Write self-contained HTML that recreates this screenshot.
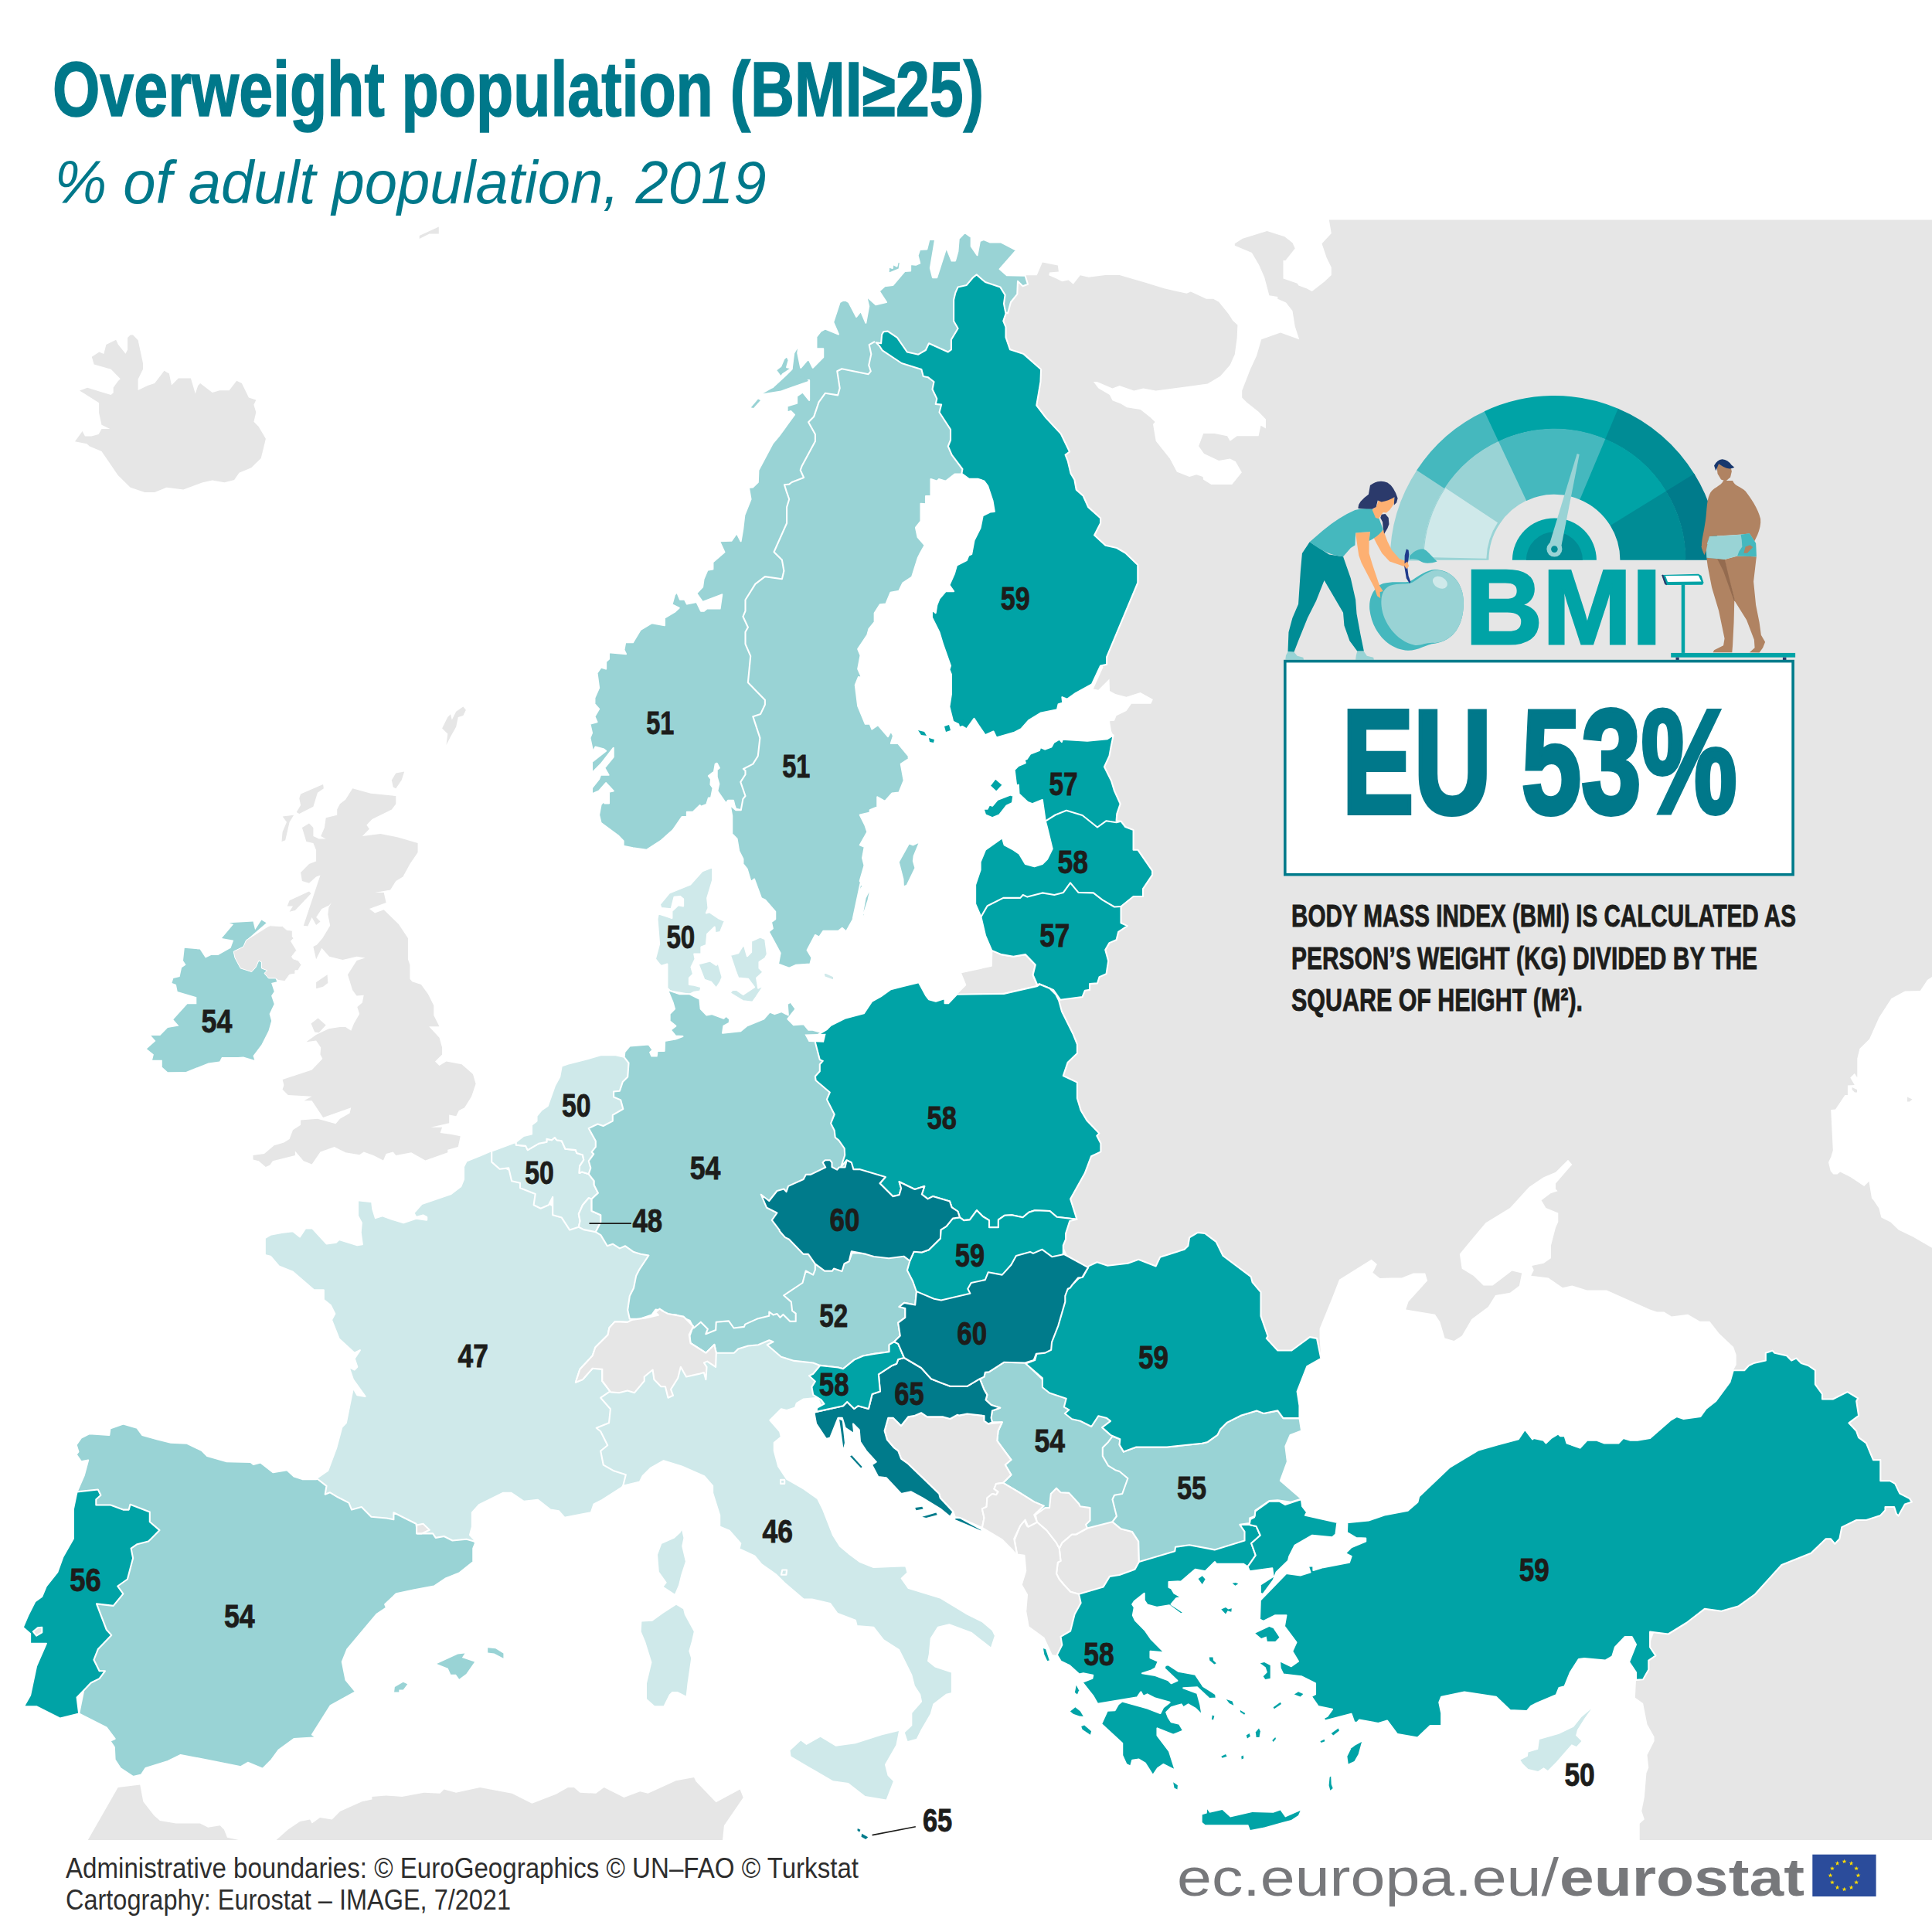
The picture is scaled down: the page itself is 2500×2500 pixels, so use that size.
<!DOCTYPE html>
<html><head><meta charset="utf-8"><title>Overweight population</title>
<style>
html,body{margin:0;padding:0;background:#fff;}
body{width:2500px;height:2500px;overflow:hidden;position:relative;font-family:"Liberation Sans",sans-serif;}
svg{position:absolute;left:0;top:0;}
</style></head><body>
<svg width="2500" height="2500" viewBox="0 0 2500 2500">
<defs><clipPath id="mapclip"><rect x="0" y="284.5" width="2500" height="2096.5"/></clipPath></defs>
<g clip-path="url(#mapclip)">
<path d="M97.0,571.2 106.6,558.0 110.0,564.4 118.3,564.4 127.6,561.9 131.5,554.9 142.3,554.9 131.5,549.7 128.1,534.2 128.1,521.2 103.0,505.4 113.1,501.8 143.6,511.1 146.7,508.3 146.7,501.6 152.7,493.3 155.8,490.2 143.6,477.7 121.6,471.5 118.8,461.7 128.4,455.5 134.3,458.1 137.4,445.9 150.1,439.7 152.7,445.4 162.5,457.8 165.1,452.6 165.1,436.9 168.7,433.5 172.1,433.5 178.6,440.2 185.0,470.0 185.0,477.7 178.6,490.7 178.6,504.9 191.0,499.0 200.1,495.9 209.1,484.2 212.5,479.8 218.9,483.4 222.0,498.4 230.8,489.4 246.9,489.4 252.8,509.6 256.2,499.0 259.1,495.9 274.8,508.0 284.2,505.2 296.6,505.2 306.2,492.8 312.9,495.9 321.9,514.5 331.3,517.6 328.4,523.8 331.3,533.4 328.4,545.8 334.6,552.0 343.9,567.8 337.7,592.9 325.1,605.3 309.5,611.8 303.1,621.1 290.4,624.2 274.8,621.4 262.2,624.2 237.3,633.5 215.6,630.7 200.1,636.9 187.4,636.9 168.7,630.7 152.7,614.9 131.5,583.9 115.9,577.4 112.3,574.3Z" fill="#e6e6e6" stroke="none" stroke-width="2.1" stroke-linejoin="round"/>
<path d="M542.7,309.0 542.7,304.9 567.8,293.5 567.8,302.5 555.6,302.5Z" fill="#e6e6e6" stroke="none" stroke-width="2.1" stroke-linejoin="round"/>
<path d="M1327.2,356.2 1341.7,356.2 1348.9,339.6 1368.8,343.6 1369.9,351.5 1358.0,352.6 1357.2,356.2 1367.0,360.6 1374.3,364.2 1382.6,362.4 1388.8,367.8 1397.8,356.2 1408.7,358.8 1430.4,355.9 1448.6,355.9 1483.0,366.0 1506.5,373.3 1535.5,379.8 1540.9,377.6 1560.9,386.7 1569.9,386.7 1577.2,390.7 1589.9,406.6 1595.3,414.9 1601.4,420.4 1600.7,436.7 1597.8,458.4 1591.7,472.2 1579.0,486.7 1562.7,496.4 1531.9,500.8 1495.7,505.5 1479.3,502.6 1467.4,505.5 1448.6,499.0 1439.5,502.6 1419.6,493.9 1414.9,493.9 1421.4,502.6 1435.9,510.9 1439.5,518.2 1450.4,522.5 1458.3,527.2 1475.7,530.1 1488.4,539.9 1494.6,546.1 1492.0,549.0 1495.7,570.7 1513.8,593.6 1522.8,610.6 1539.1,617.1 1548.2,614.2 1556.5,617.1 1557.2,620.7 1567.4,626.9 1594.2,626.9 1606.9,611.3 1598.9,597.2 1591.7,593.6 1577.2,596.1 1558.0,587.0 1551.1,577.2 1557.2,560.9 1571.7,560.9 1588.0,564.2 1591.7,570.7 1600.7,564.2 1628.6,564.2 1631.5,550.8 1638.0,554.4 1638.0,542.5 1628.6,532.7 1613.4,520.7 1607.2,514.6 1607.2,505.5 1617.8,478.3 1626.1,460.2 1632.2,439.2 1656.9,430.5 1681.2,439.2 1675.7,422.2 1672.5,402.2 1664.1,391.4 1653.3,386.7 1653.3,384.1 1642.4,382.3 1636.2,358.8 1629.0,342.5 1619.9,326.9 1597.8,317.8 1597.8,315.3 1608.0,308.8 1639.5,299.0 1662.3,306.2 1672.5,314.2 1675.7,321.4 1663.4,337.0 1660.5,337.0 1660.5,360.6 1678.6,366.7 1680.4,369.6 1690.6,373.3 1697.8,376.9 1714.1,364.2 1722.8,355.9 1722.8,346.1 1716.7,333.4 1710.5,315.3 1722.8,301.9 1719.2,280.9 2520.0,260.0 2520.0,2400.0 2121.7,2387.0 2121.7,2359.8 2127.9,2354.3 2124.3,2343.5 2127.9,2325.4 2130.4,2294.6 2133.3,2287.3 2131.5,2271.0 2140.6,2252.9 2140.6,2247.5 2131.5,2231.2 2126.1,2204.0 2115.9,2196.7 2117.0,2173.9 2162.3,2053.6 1850.0,1900.0 1720.0,1800.0 1600.0,1750.0 1480.0,1660.0 1390.0,1645.0 1370.0,1600.0 1380.0,1500.0 1360.0,1300.0 1400.0,1250.0 1440.0,1120.0 1420.0,1000.0 1440.7,951.4 1438.1,946.3 1436.0,933.3 1442.0,932.8 1444.6,926.3 1457.5,919.9 1464.0,910.8 1489.3,910.8 1491.9,905.1 1475.6,896.1 1457.5,901.8 1443.3,897.9 1436.0,894.0 1435.5,878.5 1421.3,892.7 1414.8,891.4 1427.7,862.9 1350.0,800.0 1250.0,500.0 1300.0,380.0Z" fill="#e6e6e6" stroke="none" stroke-width="2.1" stroke-linejoin="round"/>
<path d="M109.7,2388.1 152.7,2313.0 181.2,2309.4 185.3,2331.2 199.3,2349.3 207.0,2356.0 227.7,2359.6 258.8,2359.6 269.2,2364.8 284.7,2362.2 289.9,2367.4 294.0,2377.7 310.6,2381.4 357.1,2381.4 372.7,2367.4 388.2,2357.0 401.1,2354.5 403.7,2359.6 414.1,2351.9 429.6,2354.5 440.0,2344.1 468.4,2331.2 481.4,2328.6 481.4,2324.9 499.5,2323.4 520.2,2324.9 548.7,2319.8 569.4,2320.8 574.5,2315.6 590.1,2319.8 621.1,2313.0 662.5,2320.8 688.4,2333.7 719.5,2321.8 735.0,2313.0 742.8,2313.0 750.5,2319.8 771.2,2320.8 781.6,2313.0 807.5,2326.0 828.2,2318.2 838.5,2320.8 874.7,2304.2 898.0,2300.1 900.6,2305.3 926.5,2332.2 957.6,2315.6 961.7,2326.0 936.9,2362.2 934.3,2388.1Z" fill="#e6e6e6" stroke="none" stroke-width="2.1" stroke-linejoin="round"/>
<path d="M456.2,1020.3 479.7,1026.8 512.3,1030.1 512.3,1040.2 506.9,1047.5 481.5,1060.1 474.3,1067.4 477.9,1072.8 468.8,1081.9 492.4,1079.0 515.9,1083.7 540.6,1090.9 540.6,1102.9 530.4,1118.1 521.4,1134.4 512.3,1139.9 505.1,1151.4 485.1,1155.1 496.7,1155.1 499.6,1168.1 477.9,1176.1 485.1,1181.5 496.7,1177.2 515.9,1196.0 527.9,1214.1 527.9,1241.3 530.4,1248.6 530.4,1266.7 533.3,1270.3 544.9,1273.9 554.0,1286.6 561.2,1301.1 561.2,1313.8 568.5,1328.3 555.1,1328.3 568.5,1342.8 572.1,1355.4 572.1,1364.5 563.0,1373.6 568.5,1379.0 577.5,1373.6 597.5,1377.2 612.0,1389.9 615.6,1402.5 610.1,1418.8 601.1,1433.3 593.8,1437.0 590.2,1444.2 581.2,1442.4 581.2,1453.3 557.6,1458.7 572.1,1458.7 569.6,1465.9 583.0,1467.8 595.7,1470.3 592.8,1484.1 579.3,1487.7 579.3,1491.3 550.4,1501.4 532.2,1491.3 512.3,1494.9 508.7,1490.6 499.6,1493.1 496.0,1501.4 483.3,1494.9 470.7,1490.6 465.2,1494.2 447.1,1491.3 432.6,1484.1 414.5,1490.6 403.6,1506.5 392.8,1502.2 381.9,1489.5 381.9,1494.9 352.9,1502.2 349.3,1507.6 343.8,1510.1 334.8,1502.2 327.5,1500.4 327.5,1494.9 342.0,1493.1 354.7,1482.2 367.4,1478.6 374.6,1473.9 379.0,1462.3 389.1,1455.8 389.1,1449.6 410.9,1447.8 434.4,1454.3 439.9,1447.8 452.5,1440.6 454.3,1433.3 418.1,1446.0 403.6,1424.3 393.5,1424.3 403.6,1418.8 372.8,1417.0 365.6,1409.8 367.4,1404.3 365.6,1397.1 403.6,1384.4 417.4,1369.9 414.5,1364.5 415.2,1355.4 409.1,1346.4 396.4,1348.2 409.1,1339.1 425.4,1331.2 439.9,1329.0 447.1,1329.0 454.3,1333.7 458.0,1324.6 465.2,1312.0 462.3,1302.9 468.8,1297.5 470.7,1287.7 461.6,1288.4 456.2,1281.2 450.0,1261.2 461.6,1243.1 472.5,1239.5 461.6,1237.7 443.5,1242.0 426.1,1237.7 416.3,1226.8 409.1,1241.3 405.4,1225.0 410.1,1222.5 417.4,1214.1 427.2,1197.8 424.3,1183.3 425.4,1174.3 429.0,1168.1 425.4,1171.7 416.3,1176.1 409.1,1187.0 414.5,1192.4 409.1,1197.1 403.6,1187.0 398.2,1198.6 392.8,1197.8 403.6,1165.2 414.5,1132.6 409.1,1134.4 400.0,1142.8 390.9,1139.9 389.1,1129.0 400.0,1118.1 409.1,1114.5 409.1,1100.0 405.4,1090.9 396.4,1089.1 390.9,1071.0 400.0,1065.6 405.4,1071.0 405.4,1081.9 412.7,1085.5 421.7,1085.5 415.2,1081.9 419.9,1071.0 421.7,1058.3 436.2,1054.7 436.2,1047.5 439.9,1040.2 447.1,1034.8Z" fill="#e6e6e6" stroke="none" stroke-width="2.1" stroke-linejoin="round"/>
<path d="M389.1,1027.5 418.1,1014.9 418.8,1020.3 410.9,1025.7 405.4,1043.8 387.3,1052.9 383.7,1051.1 389.1,1042.0 387.3,1033.0Z" fill="#e6e6e6" stroke="none" stroke-width="2.1" stroke-linejoin="round"/>
<path d="M365.6,1056.5 380.1,1054.7 374.6,1063.8 369.2,1087.3 364.5,1089.1 365.6,1076.4 371.0,1063.8Z" fill="#e6e6e6" stroke="none" stroke-width="2.1" stroke-linejoin="round"/>
<path d="M374.6,1165.2 400.0,1153.6 402.5,1156.2 381.9,1177.9 374.6,1179.7 379.0,1172.5 371.7,1172.5Z" fill="#e6e6e6" stroke="none" stroke-width="2.1" stroke-linejoin="round"/>
<path d="M506.9,1009.4 512.3,1000.4 523.2,998.6 519.6,1009.4 512.3,1020.3 508.7,1018.5Z" fill="#e6e6e6" stroke="none" stroke-width="2.1" stroke-linejoin="round"/>
<path d="M572.1,942.4 579.3,927.9 583.0,924.3 584.8,931.5 590.2,920.7 599.3,914.5 602.9,918.8 599.3,926.1 592.8,927.9 590.2,940.6 583.0,953.3 577.5,964.1 579.3,949.6Z" fill="#e6e6e6" stroke="none" stroke-width="2.1" stroke-linejoin="round"/>
<path d="M409.1,1271.0 423.6,1261.2 424.3,1272.1 418.1,1276.8 409.1,1279.3Z" fill="#e6e6e6" stroke="none" stroke-width="2.1" stroke-linejoin="round"/>
<path d="M402.5,1324.6 411.6,1317.4 421.7,1326.4 412.7,1336.2 407.2,1335.5Z" fill="#e6e6e6" stroke="none" stroke-width="2.1" stroke-linejoin="round"/>
<path d="M98.6,1869.6 105.1,1860.5 115.9,1855.1 141.3,1856.9 142.4,1848.6 159.4,1842.4 177.5,1847.8 184.1,1856.9 202.9,1862.3 221.0,1866.7 242.0,1867.8 260.9,1876.8 268.1,1884.1 293.5,1891.3 324.3,1892.0 327.9,1894.9 337.0,1892.4 353.3,1905.1 371.4,1902.2 380.4,1910.5 391.3,1914.1 409.4,1914.1 422.1,1907.6 471.0,1916.7 543.5,1945.7 601.4,1981.9 615.2,1996.4 612.3,2003.6 612.3,2021.0 594.2,2035.5 576.1,2042.8 561.6,2052.5 536.2,2057.2 512.7,2062.3 498.2,2076.1 500.0,2080.4 487.3,2088.8 449.3,2134.1 442.8,2150.4 447.5,2173.9 460.1,2189.1 427.5,2207.2 404.0,2244.6 409.4,2248.2 380.4,2250.0 360.5,2264.5 351.4,2277.2 339.9,2288.8 320.7,2280.8 311.6,2286.2 275.4,2279.0 233.7,2271.0 217.4,2279.0 188.4,2288.0 183.0,2296.4 172.1,2298.9 155.8,2288.0 148.6,2277.2 147.8,2260.9 142.4,2252.9 148.6,2250.0 137.7,2235.5 102.2,2217.4 108.7,2184.8 108.7,2003.6 108.7,1938.4 99.6,1930.4 108.7,1909.4 114.1,1889.5 105.1,1891.3 98.6,1882.2 101.4,1878.6Z" fill="#99d3d5" stroke="#fff" stroke-width="2.1" stroke-linejoin="round"/>
<path d="M1819.2,1694.6 1822.5,1684.4 1847.1,1657.2 1844.2,1647.5 1829.0,1647.5 1813.8,1653.6 1800.0,1653.6 1785.5,1654.0 1776.4,1646.7 1781.9,1635.9 1774.6,1629.7 1733.0,1655.8 1723.9,1679.3 1707.6,1719.2 1707.6,1731.9 1709.4,1758.0 1691.3,1768.1 1678.6,1800.7 1681.5,1818.8 1681.5,1835.1 1684.1,1851.4 1669.6,1856.9 1663.4,1871.4 1665.9,1891.3 1656.9,1915.9 1684.1,1939.5 1684.1,1943.8 1691.3,1960.1 1731.2,1970.3 1731.2,1987.3 1742.8,1989.1 1742.8,1970.3 1771.0,1967.4 1792.8,1960.1 1821.7,1954.7 1834.4,1943.8 1836.2,1936.6 1876.1,1898.6 1912.3,1876.8 1937.7,1869.6 1964.9,1862.3 1973.2,1849.6 1983.0,1862.3 1984.8,1860.9 1997.5,1863.8 2000.4,1867.4 2006.9,1861.2 2016.3,1855.4 2019.2,1858.3 2024.6,1858.3 2027.5,1867.4 2044.6,1873.6 2053.6,1863.8 2066.3,1863.8 2076.1,1867.4 2094.6,1867.4 2100.7,1860.9 2109.8,1863.8 2118.8,1863.8 2135.1,1860.9 2162.3,1837.3 2169.6,1833.0 2178.6,1835.9 2200.4,1833.0 2207.6,1822.8 2220.3,1813.0 2238.4,1788.4 2242.8,1773.2 2246.7,1765.9 2246.7,1753.3 2243.1,1743.1 2224.6,1725.4 2212.3,1709.8 2199.6,1709.8 2184.1,1700.7 2163.0,1703.6 2153.3,1697.5 2144.2,1697.5 2135.1,1694.6 2079.0,1669.6 2053.6,1669.6 2034.4,1663.4 2022.1,1666.3 2003.6,1653.6 1981.2,1650.7 1984.8,1643.5 1982.2,1638.0 1997.5,1634.8 2006.9,1628.3 2006.9,1612.0 2013.0,1588.4 2016.3,1581.2 2016.3,1569.6 2000.4,1563.0 1994.6,1553.3 2006.5,1544.2 2015.6,1541.3 2013.0,1538.4 2013.0,1531.5 2034.4,1506.9 2029.0,1500.7 2013.0,1516.7 1997.5,1523.2 1978.6,1535.9 1954.0,1563.0 1922.5,1582.2 1900.7,1608.3 1888.8,1622.8 1891.7,1641.7 1906.9,1651.1 1919.6,1663.4 1931.5,1663.4 1956.5,1644.6 1969.2,1647.5 1965.9,1663.8 1954.0,1672.8 1935.1,1676.1 1925.7,1690.9 1904.3,1706.9 1891.7,1728.6 1881.5,1735.1 1869.6,1731.5 1863.4,1710.5 1856.9,1700.7Z" fill="#ffffff" stroke="none" stroke-width="2.1" stroke-linejoin="round"/>
<path d="M2500.0,1264.0 2494.0,1268.0 2484.7,1282.0 2465.0,1282.6 2447.4,1291.9 2442.2,1300.0 2431.5,1316.6 2419.0,1344.5 2406.4,1356.9 2403.3,1369.4 2403.3,1394.2 2399.8,1389.0 2394.2,1394.6 2399.8,1404.1 2390.9,1404.6 2390.9,1417.0 2387.4,1417.0 2375.0,1435.6 2369.2,1436.0 2371.8,1488.4 2369.4,1496.7 2366.0,1503.9 2368.7,1515.3 2372.3,1519.5 2377.4,1519.5 2381.2,1516.4 2394.6,1523.2 2412.2,1535.0 2418.4,1528.8 2422.0,1550.5 2424.6,1553.6 2431.3,1563.4 2434.4,1575.4 2446.4,1581.6 2456.7,1591.5 2475.4,1600.6 2500.0,1614.7 2520.0,1625.0 2520.0,1264.0Z" fill="#ffffff" stroke="none" stroke-width="2.1" stroke-linejoin="round"/>
<path d="M636.2,1489.1 621.7,1495.3 603.6,1502.5 600.0,1509.8 600.0,1526.1 596.4,1535.1 583.7,1544.9 545.7,1558.0 535.5,1569.6 538.4,1575.0 547.5,1572.5 552.2,1575.0 552.2,1578.6 538.4,1576.8 522.1,1582.2 506.5,1577.5 494.9,1573.2 485.9,1576.1 482.2,1564.1 481.2,1555.1 463.0,1553.3 463.0,1573.2 467.8,1582.2 466.7,1594.9 468.8,1610.1 462.3,1611.2 438.8,1604.0 435.1,1607.6 422.5,1609.4 404.3,1589.5 395.3,1589.5 388.0,1600.4 379.0,1593.1 364.5,1594.9 350.0,1597.8 342.8,1602.2 342.8,1623.9 350.0,1625.7 360.9,1638.4 379.0,1645.7 406.2,1669.2 418.8,1669.2 418.8,1681.9 427.9,1689.1 433.3,1700.0 429.0,1708.0 438.8,1732.6 458.7,1750.7 465.9,1747.1 458.7,1758.0 462.3,1768.8 458.7,1772.5 451.4,1768.8 456.9,1785.1 472.5,1806.9 462.3,1805.1 456.9,1796.0 447.8,1841.3 442.4,1846.7 435.1,1873.9 424.3,1902.9 409.8,1913.0 422.5,1922.8 420.7,1933.7 426.8,1931.2 437.0,1937.3 451.4,1944.6 455.1,1953.6 467.8,1950.0 480.4,1962.7 500.4,1964.5 509.4,1966.3 509.4,1957.2 538.4,1971.7 540.2,1984.4 560.1,1984.4 563.8,1989.9 574.6,1988.0 585.5,1993.5 603.6,1991.7 616.3,1995.3 608.0,1986.2 610.9,1975.4 610.9,1957.2 619.9,1947.1 650.7,1931.9 661.6,1931.9 677.9,1942.8 696.0,1940.9 712.3,1953.6 723.2,1955.4 730.4,1963.8 764.9,1957.2 768.5,1946.4 779.3,1940.9 804.7,1924.6 821.0,1902.9 806.5,1848.6 806.5,1812.3 790.2,1801.4 779.3,1787.0 779.3,1771.7 766.7,1770.7 754.0,1785.1 744.9,1788.8 750.4,1771.7 766.7,1754.3 770.3,1743.5 786.6,1727.2 788.4,1718.1 795.7,1710.1 812.0,1710.9 831.9,1703.6 857.2,1623.9 784.8,1587.7 748.6,1580.4 712.3,1558.7 676.1,1522.5 639.9,1504.3Z" fill="#cfe9ea" stroke="#fff" stroke-width="2.1" stroke-linejoin="round"/>
<path d="M565.2,2152.9 592.4,2140.6 601.4,2139.5 597.8,2144.9 614.1,2150.4 603.3,2165.9 594.2,2172.8 589.9,2166.7 583.3,2166.7 579.7,2158.7Z" fill="#99d3d5" stroke="none" stroke-width="2.1" stroke-linejoin="round"/>
<path d="M631.2,2132.2 641.3,2133.3 651.4,2139.5 651.4,2145.7 639.5,2139.5 631.2,2138.4Z" fill="#99d3d5" stroke="none" stroke-width="2.1" stroke-linejoin="round"/>
<path d="M510.9,2183.0 521.7,2176.8 527.2,2179.3 521.7,2186.6 516.3,2186.6 516.3,2189.5 510.1,2189.5Z" fill="#99d3d5" stroke="none" stroke-width="2.1" stroke-linejoin="round"/>
<path d="M296.7,1194.2 327.5,1192.4 330.1,1203.3 338.4,1190.6 344.6,1194.2 318.5,1216.7 314.9,1225.0 302.2,1231.2 304.0,1239.5 311.2,1252.9 325.7,1257.6 331.2,1251.4 334.8,1243.1 338.4,1244.9 338.4,1252.9 345.7,1255.8 342.0,1259.4 347.5,1265.9 356.5,1265.9 358.3,1270.3 351.1,1272.1 354.7,1283.0 351.1,1288.4 354.7,1299.3 348.6,1312.0 351.1,1321.0 347.5,1333.7 338.4,1351.8 327.5,1366.3 329.3,1371.7 314.9,1367.4 307.6,1368.1 287.0,1368.1 284.1,1373.6 269.6,1375.4 240.6,1387.0 217.0,1387.3 209.8,1380.8 209.8,1371.7 197.1,1371.7 198.9,1364.5 189.9,1357.2 201.4,1347.1 195.3,1339.9 207.2,1339.9 217.0,1330.1 231.5,1327.5 224.3,1319.2 242.4,1299.3 254.3,1299.3 254.3,1290.2 229.7,1283.0 227.9,1273.9 222.5,1272.1 224.3,1265.9 232.6,1264.1 235.1,1252.2 240.6,1248.6 237.0,1243.1 238.8,1226.8 258.7,1228.6 265.9,1239.5 273.2,1235.9 282.2,1235.9 298.6,1226.8 302.2,1216.7 287.0,1214.1 302.2,1196.0Z" fill="#99d3d5" stroke="none" stroke-width="2.1" stroke-linejoin="round"/>
<path d="M1300.2,404.0 1304.1,405.3 1308.0,391.0 1316.3,380.7 1317.0,363.9 1323.5,370.3 1330.0,367.8 1326.6,356.6 1302.8,356.1 1293.7,348.3 1315.2,323.8 1295.0,313.4 1280.8,313.4 1273.0,310.0 1267.9,312.1 1264.5,330.2 1256.7,318.6 1256.7,306.9 1248.4,301.0 1240.7,309.0 1239.4,325.1 1236.0,337.5 1231.6,337.5 1224.6,320.4 1212.2,359.2 1207.0,359.2 1203.9,347.0 1210.1,310.0 1202.4,310.0 1199.3,322.5 1190.2,323.0 1187.6,330.7 1190.2,340.6 1185.0,342.7 1178.1,341.9 1178.1,350.4 1170.8,350.9 1155.3,369.0 1144.9,370.3 1137.7,376.8 1147.0,391.0 1133.3,394.2 1121.1,383.3 1124.2,396.2 1120.3,417.7 1113.9,402.7 1108.2,409.9 1098.3,391.0 1092.7,387.9 1086.7,391.0 1078.2,416.9 1084.9,432.5 1067.8,425.5 1062.1,428.6 1056.4,435.8 1056.4,451.3 1065.2,451.3 1065.2,462.2 1051.8,475.7 1046.1,464.3 1036.2,475.7 1032.3,457.0 1033.6,446.2 1027.2,457.0 1024.6,477.7 1015.5,486.8 1000.0,501.0 1000.0,506.2 1010.4,504.9 1023.3,501.0 1038.8,492.8 1047.1,492.0 1047.1,517.9 1038.8,507.5 1031.1,512.7 1031.1,521.7 1018.6,525.6 1018.6,533.4 1023.3,532.1 1028.0,536.7 1018.1,550.2 1007.8,564.4 1000.0,573.5 981.4,608.4 980.8,624.0 974.1,630.4 968.9,631.0 971.5,646.0 963.3,666.7 961.2,684.8 958.6,700.3 953.4,690.0 946.4,699.8 930.9,700.3 937.4,714.5 922.4,727.5 922.4,736.5 915.4,737.8 910.2,750.0 910.9,746.6 909.1,759.5 901.3,767.8 909.1,778.9 934.2,769.4 931.6,787.5 914.8,787.5 910.9,790.6 907.0,790.6 901.3,778.9 888.9,781.5 885.8,775.6 879.9,775.6 876.0,766.0 872.9,769.9 869.5,782.3 878.6,786.7 872.9,791.9 859.9,799.6 859.9,809.2 843.6,806.1 828.6,815.2 819.0,831.2 809.2,831.2 807.4,841.0 810.0,846.2 788.0,844.2 788.0,852.7 784.1,856.1 784.1,865.6 777.6,863.6 772.5,870.8 775.1,890.2 769.4,903.2 769.4,910.9 775.1,917.4 769.4,927.2 772.5,934.2 763.4,936.8 766.0,948.4 763.4,954.9 767.3,973.0 770.4,966.6 780.7,969.2 784.1,971.7 766.0,986.0 766.0,1000.2 777.6,988.6 793.7,967.9 793.7,979.5 782.3,993.7 787.5,1002.8 777.1,1002.8 775.1,1008.0 766.0,1019.6 766.0,1027.4 775.1,1023.5 784.1,1013.1 793.7,1023.5 788.0,1024.8 788.0,1039.5 782.3,1039.5 782.3,1035.9 777.6,1041.1 775.1,1054.6 777.6,1064.9 799.6,1081.0 806.6,1088.2 806.6,1094.7 819.0,1097.3 836.6,1099.8 854.8,1088.2 870.8,1074.0 882.5,1057.1 888.9,1057.1 888.9,1050.7 896.7,1050.7 905.7,1042.1 907.0,1043.7 914.3,1041.1 916.9,1032.6 920.0,1032.6 922.6,1019.6 919.5,1015.2 920.0,1008.0 916.9,1004.1 922.6,999.7 922.6,1006.7 925.7,988.6 927.7,987.8 930.8,993.7 927.7,996.3 927.7,1005.4 930.3,1014.4 928.3,1023.5 939.4,1039.5 942.0,1035.9 949.0,1035.9 950.5,1042.1 952.3,1046.8 958.8,1048.1 952.3,1048.1 944.6,1041.6 947.2,1055.8 947.2,1079.1 953.6,1085.6 956.2,1101.1 961.4,1111.5 961.4,1118.0 966.6,1124.4 971.7,1141.3 976.0,1137.5 985.0,1162.1 990.2,1164.7 1003.2,1179.7 1003.2,1189.3 998.0,1193.2 999.8,1201.4 994.6,1205.6 1009.6,1233.3 1007.0,1247.5 1021.3,1252.7 1030.3,1248.8 1048.4,1247.5 1050.5,1239.2 1044.6,1229.4 1054.9,1210.0 1060.1,1212.6 1065.3,1204.8 1084.7,1204.8 1089.9,1200.9 1095.0,1205.6 1104.1,1189.3 1111.9,1154.3 1116.3,1146.6 1113.1,1138.8 1118.3,1120.7 1103.7,1189.1 1116.1,1146.4 1112.8,1140.0 1118.7,1120.5 1116.1,1110.2 1118.7,1096.0 1112.8,1093.4 1122.4,1076.6 1119.3,1067.5 1112.8,1054.6 1125.7,1051.4 1125.7,1048.1 1135.3,1044.2 1135.3,1031.3 1145.1,1037.0 1154.2,1026.6 1163.3,1025.6 1169.7,1010.0 1165.8,988.6 1175.7,982.1 1175.7,978.2 1162.0,961.9 1152.9,961.9 1156.0,952.3 1152.9,945.9 1149.0,953.1 1136.1,938.1 1128.3,943.3 1125.7,936.8 1119.8,936.8 1110.2,913.5 1106.8,886.3 1111.0,876.0 1115.4,877.3 1110.2,865.6 1113.6,848.0 1110.2,839.8 1122.4,821.6 1124.4,813.9 1131.7,804.8 1131.7,793.2 1138.7,782.3 1146.4,781.5 1152.4,766.8 1163.3,764.7 1168.4,754.3 1180.1,746.6 1187.8,722.0 1190.2,717.1 1196.7,705.5 1187.6,695.1 1185.0,682.7 1191.5,674.4 1191.5,651.7 1198.0,652.4 1198.0,642.1 1204.5,642.1 1204.5,620.1 1212.7,622.7 1214.8,620.1 1223.9,622.7 1235.5,613.6 1245.9,613.6 1284.7,586.4 1310.6,482.9 1284.7,405.3Z" fill="#99d3d5" stroke="#fff" stroke-width="2.1" stroke-linejoin="round"/>
<path d="M958.8,1048.1 961.4,1033.9 964.5,1030.0 958.3,1011.9 964.5,1002.3 964.5,997.1 961.9,995.0 974.3,988.6 980.8,978.2 983.4,954.9 974.3,927.2 984.2,923.9 989.9,911.7 989.9,905.7 967.9,883.2 971.2,848.8 964.5,833.3 964.5,817.8 967.9,811.8 961.4,797.8 964.5,790.6 964.5,776.3 977.4,755.6 989.9,746.1 1011.9,749.2 1014.4,738.8 1011.9,724.6 1001.5,714.2 1018.1,677.0 1018.1,656.3 1021.2,646.0 1017.6,635.6 1015.0,627.3 1021.2,626.6 1024.6,624.0 1040.1,618.0 1035.7,608.4 1037.5,603.3 1054.9,570.9 1054.9,561.9 1046.1,546.3 1053.1,539.3 1059.5,520.4 1067.8,508.8 1084.1,511.4 1086.7,502.3 1083.3,480.3 1089.3,477.2 1123.7,484.2 1126.8,480.3 1124.2,472.6 1127.3,458.3 1124.7,446.2 1132.0,442.0" fill="none" stroke="#fff" stroke-width="2.1" stroke-linejoin="round"/>
<path d="M1149.6,354.0 1163.6,348.3 1165.1,338.0 1161.7,339.3 1160.5,344.5 1155.3,341.9 1154.8,347.0 1150.1,345.2Z" fill="#99d3d5" stroke="#fff" stroke-width="2.1" stroke-linejoin="round"/>
<path d="M1003.9,479.0 1010.4,473.9 1014.2,464.8 1018.1,460.9 1020.7,466.1 1018.1,475.2 1024.6,476.4 1012.9,484.2 1010.4,487.6Z" fill="#99d3d5" stroke="#fff" stroke-width="2.1" stroke-linejoin="round"/>
<path d="M1131.7,1131.7 1128.3,1140.0 1122.4,1160.7 1116.1,1178.8 1116.1,1189.1 1118.7,1184.0 1125.7,1155.5 1130.9,1132.7Z" fill="#99d3d5" stroke="#fff" stroke-width="2.1" stroke-linejoin="round"/>
<path d="M1176.2,1091.3 1181.4,1093.4 1190.4,1089.0 1182.7,1107.6 1181.9,1114.1 1184.5,1123.1 1173.6,1145.7 1168.9,1147.7 1168.4,1137.4 1162.7,1115.4Z" fill="#99d3d5" stroke="#fff" stroke-width="2.1" stroke-linejoin="round"/>
<path d="M1130.0,1131.1 1124.8,1151.8 1119.6,1162.1 1116.3,1180.2 1117.8,1182.3 1123.5,1164.7 1126.6,1150.5 1130.7,1131.6Z" fill="#99d3d5" stroke="#fff" stroke-width="2.1" stroke-linejoin="round"/>
<path d="M922.2,1122.0 908.7,1127.2 893.2,1144.5 866.0,1155.6 853.8,1170.4 855.6,1175.1 868.6,1176.3 872.5,1160.8 880.2,1160.0 884.1,1163.4 884.1,1172.5 877.6,1171.2 869.4,1178.9 869.4,1188.0 862.1,1185.4 851.8,1182.3 850.5,1189.3 853.1,1221.6 847.9,1241.0 853.1,1247.5 855.6,1250.1 863.4,1247.5 863.4,1278.6 867.3,1282.5 891.9,1286.9 898.3,1283.7 906.1,1282.5 907.4,1277.3 898.3,1274.7 891.9,1273.9 891.9,1265.6 897.0,1260.5 894.5,1251.4 899.6,1241.0 898.3,1234.6 907.4,1234.6 907.4,1225.5 913.9,1222.9 915.2,1208.7 924.7,1199.6 925.5,1207.4 932.0,1206.1 937.7,1191.9 929.4,1188.0 917.8,1180.2 913.9,1181.5 916.5,1175.1 915.2,1162.1 922.2,1138.8Z" fill="#cfe9ea" stroke="#fff" stroke-width="2.1" stroke-linejoin="round"/>
<path d="M903.5,1247.5 919.0,1243.6 926.8,1248.8 929.4,1246.2 934.6,1264.3 932.0,1270.8 926.8,1278.6 920.3,1270.8 911.3,1267.7Z" fill="#cfe9ea" stroke="#fff" stroke-width="2.1" stroke-linejoin="round"/>
<path d="M944.9,1235.9 955.3,1233.3 962.5,1221.6 966.9,1237.2 972.1,1232.0 972.1,1217.8 983.7,1212.6 990.2,1215.2 992.8,1234.6 990.2,1239.8 982.5,1244.9 982.5,1252.7 987.6,1257.9 979.1,1265.6 981.2,1278.6 988.9,1274.7 978.6,1290.2 973.9,1296.7 961.7,1295.4 944.4,1285.0 947.5,1281.2 952.7,1280.6 961.7,1286.9 976.0,1277.3 968.2,1266.9 955.3,1265.6 951.4,1255.3Z" fill="#cfe9ea" stroke="#fff" stroke-width="2.1" stroke-linejoin="round"/>
<path d="M1065.3,1257.3 1079.0,1263.6 1079.0,1268.7 1066.6,1264.3Z" fill="#cfe9ea" stroke="#fff" stroke-width="2.1" stroke-linejoin="round"/>
<path d="M1046.0,493.0 1023.0,501.0 1010.6,505.6 987.3,509.3 998.2,503.1 1021.5,493.5 1040.0,486.0Z" fill="#99d3d5" stroke="none" stroke-width="2.1" stroke-linejoin="round"/>
<path d="M971.8,527.3 981.0,516.5 984.0,518.0 975.0,528.0Z" fill="#99d3d5" stroke="none" stroke-width="2.1" stroke-linejoin="round"/>
<path d="M1283.3,1229.9 1295.8,1235.1 1311.3,1237.7 1326.8,1235.1 1339.8,1248.6 1336.6,1261.5 1342.3,1275.7 1298.3,1286.1 1236.2,1287.4 1249.2,1274.4 1242.7,1258.4 1282.8,1249.8Z" fill="#e6e6e6" stroke="#fff" stroke-width="2.1" stroke-linejoin="round"/>
<path d="M806.2,1922.8 809.8,1908.3 793.5,1902.9 780.8,1895.7 777.2,1877.5 786.2,1870.3 777.2,1852.2 771.7,1847.8 788.0,1841.3 789.9,1823.2 777.2,1808.7 788.0,1801.4 804.3,1787.0 844.2,1761.6 880.4,1754.3 923.9,1743.5 967.4,1721.7 1003.6,1729.0 1050.7,1754.3 1076.1,1790.6 1065.2,1819.6 1056.2,1825.0 1061.6,1817.8 1058.0,1808.7 1039.9,1810.5 1030.8,1815.9 1029.0,1821.4 1018.1,1825.0 1010.9,1823.2 996.4,1837.7 1009.1,1852.2 1010.9,1859.4 1001.8,1866.7 1001.8,1877.5 1007.2,1897.5 1018.1,1913.8 1039.9,1926.4 1058.0,1939.1 1065.2,1953.6 1077.9,1986.2 1087.0,2000.7 1097.8,2009.8 1112.3,2020.7 1130.4,2027.9 1172.1,2026.1 1174.6,2035.1 1166.7,2042.4 1175.7,2055.1 1217.4,2067.8 1250.0,2087.7 1271.7,2098.6 1284.4,2109.4 1288.0,2116.7 1282.6,2133.0 1266.3,2120.3 1257.2,2113.0 1228.3,2102.2 1213.8,2105.8 1204.7,2120.3 1202.9,2140.2 1201.1,2149.3 1210.1,2156.5 1231.9,2163.8 1231.9,2190.9 1224.6,2192.8 1208.3,2205.4 1204.7,2218.1 1192.0,2239.9 1186.6,2250.7 1173.9,2254.3 1169.6,2241.7 1179.3,2232.6 1179.3,2216.3 1192.0,2201.8 1190.2,2192.8 1183.0,2181.9 1179.3,2167.4 1170.3,2149.3 1163.0,2134.8 1143.1,2122.1 1130.4,2105.8 1108.7,2104.0 1106.9,2096.7 1083.3,2087.7 1074.3,2075.0 1050.7,2069.6 1039.9,2069.6 1014.5,2047.8 1003.6,2037.0 985.5,2024.3 976.4,2013.4 956.5,2004.3 958.3,1997.1 943.8,1980.8 931.2,1975.4 931.2,1960.9 922.1,1931.9 922.1,1922.8 911.2,1910.1 882.2,1897.5 858.7,1890.2 842.4,1899.3 831.5,1910.1 827.9,1917.4Z" fill="#cfe9ea" stroke="#fff" stroke-width="2.1" stroke-linejoin="round"/>
<path d="M1022.5,2265.2 1036.2,2252.5 1043.5,2258.0 1061.6,2247.8 1081.5,2259.8 1106.9,2256.2 1141.3,2245.3 1163.0,2239.9 1159.4,2258.0 1144.9,2283.3 1148.6,2297.8 1155.8,2305.1 1146.7,2328.6 1119.6,2323.9 1097.8,2306.9 1077.9,2304.3 1054.3,2290.6 1041.7,2283.3 1023.6,2272.5Z" fill="#cfe9ea" stroke="none" stroke-width="2.1" stroke-linejoin="round"/>
<path d="M858.0,2087.7 875.0,2076.8 884.1,2082.2 885.9,2089.5 897.8,2111.2 894.9,2123.9 891.3,2136.6 894.2,2145.7 889.5,2178.3 887.7,2194.6 876.8,2189.1 869.6,2189.1 865.9,2192.8 858.7,2207.2 847.1,2207.2 837.0,2198.2 837.0,2178.3 843.5,2151.1 835.1,2123.9 829.7,2111.2 830.4,2098.6 844.2,2097.8Z" fill="#cfe9ea" stroke="none" stroke-width="2.1" stroke-linejoin="round"/>
<path d="M1109.8,2365.9 1113.4,2367.8 1112.0,2370.7 1109.4,2368.5Z" fill="#007b8b" stroke="none" stroke-width="2.1" stroke-linejoin="round"/>
<path d="M1115.2,2372.8 1123.2,2377.2 1120.3,2380.1 1114.5,2376.8Z" fill="#007b8b" stroke="none" stroke-width="2.1" stroke-linejoin="round"/>
<path d="M1372.0,2114.8 1383.6,2081.2 1401.8,2044.9 1453.5,2024.2 1474.2,2013.9 1520.8,1998.3 1536.3,1993.2 1554.5,1998.3 1572.0,2003.5 1608.8,1990.6 1604.9,1973.0 1616.6,1973.0 1625.6,1975.1 1630.8,1986.7 1619.2,1997.0 1624.8,2012.6 1614.5,2027.3 1608.8,2023.7 1573.9,2023.7 1572.0,2021.1 1559.6,2033.3 1546.7,2030.7 1528.6,2046.2 1512.5,2047.0 1512.5,2054.0 1515.6,2055.3 1519.5,2061.7 1528.6,2066.9 1522.1,2068.2 1515.6,2076.0 1531.2,2086.3 1528.6,2088.9 1513.0,2077.3 1497.5,2079.9 1484.6,2076.5 1480.7,2070.8 1480.7,2061.7 1467.8,2072.1 1465.2,2076.0 1467.8,2079.9 1465.9,2090.2 1469.0,2096.7 1482.0,2110.1 1489.8,2121.3 1507.9,2139.4 1502.7,2138.1 1488.5,2136.8 1488.5,2145.3 1498.8,2149.7 1494.9,2158.8 1489.8,2161.4 1478.1,2165.3 1494.9,2167.9 1511.7,2174.3 1515.6,2178.2 1523.4,2174.8 1506.6,2158.8 1507.9,2154.9 1511.7,2154.1 1524.7,2162.7 1546.7,2166.6 1557.0,2182.1 1567.4,2188.6 1573.1,2192.4 1573.9,2197.6 1564.8,2198.1 1549.3,2183.4 1531.2,2184.2 1549.3,2191.1 1553.2,2205.4 1555.7,2219.6 1546.7,2210.6 1537.6,2205.4 1531.2,2209.3 1528.6,2205.4 1515.6,2209.3 1509.2,2215.7 1511.7,2222.2 1515.6,2228.2 1526.0,2230.7 1531.2,2239.5 1518.2,2244.7 1497.5,2236.4 1497.5,2245.5 1513.0,2266.2 1520.8,2290.8 1505.3,2283.0 1498.0,2288.2 1491.8,2297.3 1482.0,2281.7 1473.7,2276.6 1465.2,2277.8 1463.1,2285.6 1457.4,2283.0 1452.2,2271.4 1452.2,2255.8 1435.4,2240.3 1425.1,2230.7 1432.8,2213.7 1442.7,2213.1 1447.0,2205.4 1452.2,2201.5 1484.6,2210.6 1501.4,2217.0 1505.3,2209.3 1513.6,2202.8 1494.9,2197.6 1484.6,2192.4 1479.4,2195.0 1476.3,2189.3 1471.6,2196.3 1420.4,2204.9 1414.7,2195.0 1405.6,2183.4 1400.5,2176.9 1413.4,2171.7 1414.2,2167.9 1401.8,2165.3 1396.6,2166.6 1383.6,2154.9 1372.8,2149.7 1364.2,2135.5Z" fill="#00a3a6" stroke="#fff" stroke-width="2.1" stroke-linejoin="round"/>
<path d="M1555.7,2348.2 1561.7,2346.4 1562.2,2341.3 1565.3,2345.7 1581.6,2342.0 1592.0,2351.6 1620.4,2345.1 1647.6,2345.7 1656.7,2342.5 1663.1,2351.6 1682.6,2343.1 1680.0,2349.0 1670.9,2355.0 1659.3,2358.1 1636.0,2364.5 1617.9,2367.9 1615.3,2361.2 1592.0,2361.2 1559.6,2361.2 1555.7,2358.1Z" fill="#00a3a6" stroke="none" stroke-width="2.1" stroke-linejoin="round"/>
<path d="M1624.3,2113.5 1642.4,2105.0 1647.6,2107.0 1655.4,2118.7 1650.2,2123.9 1639.9,2123.9 1638.6,2117.4 1632.1,2120.0Z" fill="#00a3a6" stroke="none" stroke-width="2.1" stroke-linejoin="round"/>
<path d="M1630.8,2152.3 1636.0,2151.0 1643.7,2154.9 1643.7,2171.7 1637.3,2173.0 1634.7,2169.2 1639.9,2164.0 1637.8,2157.5Z" fill="#00a3a6" stroke="none" stroke-width="2.1" stroke-linejoin="round"/>
<path d="M1674.8,2192.4 1680.0,2189.3 1686.4,2191.9 1682.6,2195.5Z" fill="#00a3a6" stroke="none" stroke-width="2.1" stroke-linejoin="round"/>
<path d="M1753.7,2258.4 1762.0,2254.0 1757.6,2270.1 1752.4,2279.1 1744.7,2282.5 1743.4,2272.7 1748.6,2262.3Z" fill="#00a3a6" stroke="none" stroke-width="2.1" stroke-linejoin="round"/>
<path d="M1550.6,2042.9 1555.7,2039.2 1559.6,2043.6 1555.7,2050.1Z" fill="#00a3a6" stroke="none" stroke-width="2.1" stroke-linejoin="round"/>
<path d="M1580.3,2082.5 1586.0,2079.9 1589.4,2082.5 1593.8,2081.2 1593.3,2085.8 1588.6,2084.3 1586.0,2088.4Z" fill="#00a3a6" stroke="none" stroke-width="2.1" stroke-linejoin="round"/>
<path d="M1594.6,2048.8 1599.0,2048.0 1602.3,2049.6 1598.4,2051.7Z" fill="#00a3a6" stroke="none" stroke-width="2.1" stroke-linejoin="round"/>
<path d="M1350.0,2132.9 1353.1,2134.2 1357.8,2148.4 1355.2,2149.0 1351.3,2140.7Z" fill="#00a3a6" stroke="none" stroke-width="2.1" stroke-linejoin="round"/>
<path d="M1384.9,2214.4 1391.4,2209.3 1397.9,2214.4 1401.8,2220.9 1396.6,2220.4 1388.8,2217.8Z" fill="#00a3a6" stroke="none" stroke-width="2.1" stroke-linejoin="round"/>
<path d="M1392.7,2180.8 1396.1,2187.3 1394.0,2192.4 1390.9,2189.9Z" fill="#00a3a6" stroke="none" stroke-width="2.1" stroke-linejoin="round"/>
<path d="M1399.2,2233.9 1403.1,2232.6 1412.1,2240.3 1410.8,2244.7 1400.5,2237.7Z" fill="#00a3a6" stroke="none" stroke-width="2.1" stroke-linejoin="round"/>
<path d="M1518.2,2306.3 1523.9,2310.2 1523.4,2315.4 1519.5,2313.6Z" fill="#00a3a6" stroke="none" stroke-width="2.1" stroke-linejoin="round"/>
<path d="M1624.8,2241.6 1629.0,2236.4 1630.8,2240.3 1629.5,2248.1 1625.6,2248.1Z" fill="#00a3a6" stroke="none" stroke-width="2.1" stroke-linejoin="round"/>
<path d="M1586.8,2198.9 1594.6,2201.5 1596.4,2206.7 1590.7,2204.1Z" fill="#00a3a6" stroke="none" stroke-width="2.1" stroke-linejoin="round"/>
<path d="M1722.7,2242.9 1731.7,2236.4 1733.0,2239.5 1725.3,2245.5Z" fill="#00a3a6" stroke="none" stroke-width="2.1" stroke-linejoin="round"/>
<path d="M1720.6,2299.8 1722.2,2298.6 1722.7,2308.9 1724.7,2314.1 1721.4,2316.7 1719.6,2310.2Z" fill="#00a3a6" stroke="none" stroke-width="2.1" stroke-linejoin="round"/>
<path d="M1564.8,2144.6 1569.5,2144.6 1570.0,2148.4 1573.9,2152.3 1571.3,2153.6 1565.3,2148.4Z" fill="#00a3a6" stroke="none" stroke-width="2.1" stroke-linejoin="round"/>
<path d="M1647.6,2209.3 1656.7,2202.8 1658.0,2204.9 1648.9,2211.3Z" fill="#00a3a6" stroke="none" stroke-width="2.1" stroke-linejoin="round"/>
<path d="M1612.7,2245.5 1616.6,2242.9 1617.9,2246.8 1614.0,2249.4Z" fill="#00a3a6" stroke="none" stroke-width="2.1" stroke-linejoin="round"/>
<path d="M1580.3,2272.7 1586.0,2270.1 1587.6,2272.7 1581.6,2274.7Z" fill="#00a3a6" stroke="none" stroke-width="2.1" stroke-linejoin="round"/>
<path d="M1604.9,2213.1 1611.4,2217.0 1610.1,2218.8 1604.9,2215.2Z" fill="#00a3a6" stroke="none" stroke-width="2.1" stroke-linejoin="round"/>
<path d="M1568.7,2219.6 1571.3,2220.4 1570.0,2225.6 1567.9,2224.8Z" fill="#00a3a6" stroke="none" stroke-width="2.1" stroke-linejoin="round"/>
<path d="M1606.2,2272.7 1608.8,2271.4 1609.3,2275.3 1606.7,2276.6Z" fill="#00a3a6" stroke="none" stroke-width="2.1" stroke-linejoin="round"/>
<path d="M1646.3,2252.0 1650.2,2248.1 1651.0,2249.9 1647.6,2254.0Z" fill="#00a3a6" stroke="none" stroke-width="2.1" stroke-linejoin="round"/>
<path d="M1708.4,2253.3 1713.6,2250.7 1714.4,2253.3 1709.7,2255.1Z" fill="#00a3a6" stroke="none" stroke-width="2.1" stroke-linejoin="round"/>
<path d="M1967.4,2277.5 1976.8,2272.8 1977.5,2267.4 1990.2,2263.8 1992.0,2251.1 2017.4,2243.8 2036.2,2234.8 2046.4,2222.1 2059.1,2211.2 2050.0,2223.9 2040.9,2238.4 2039.1,2245.7 2046.4,2252.9 2039.9,2260.1 2033.7,2257.2 2026.4,2265.6 2013.8,2280.1 2002.9,2290.9 1997.5,2287.3 1990.2,2292.0 1977.5,2289.1 1970.3,2281.9Z" fill="#cfe9ea" stroke="none" stroke-width="2.1" stroke-linejoin="round"/>
<path d="M2396.5,1407.0 2403.0,1410.0 2403.0,1413.5 2400.0,1413.5 2396.5,1410.0Z" fill="#e6e6e6" stroke="none" stroke-width="2.1" stroke-linejoin="round"/>
<path d="M2468.0,1419.5 2474.5,1422.5 2471.0,1425.5 2468.0,1425.5Z" fill="#e6e6e6" stroke="none" stroke-width="2.1" stroke-linejoin="round"/>
<path d="M1267.8,1784.2 1273.5,1781.6 1274.8,1775.7 1280.0,1775.2 1299.4,1762.7 1326.6,1763.5 1354.3,1789.9 1419.6,1818.8 1444.9,1840.6 1444.9,1862.3 1470.3,1898.6 1455.8,1952.9 1444.9,1981.9 1390.6,1985.5 1354.3,1971.0 1339.9,1960.1 1350.6,1948.6 1338.2,1943.4 1317.5,1930.4 1298.1,1918.8 1308.4,1908.4 1300.7,1895.5 1308.4,1889.0 1300.7,1878.7 1290.3,1864.4 1291.6,1851.5 1296.8,1840.4 1283.9,1840.4 1282.6,1834.7 1283.9,1825.6 1294.2,1821.7 1282.6,1817.9 1275.6,1811.4 1277.4,1804.9 1273.5,1798.4Z" fill="#99d3d5" stroke="#fff" stroke-width="2.1" stroke-linejoin="round"/>
<path d="M636.2,1489.4 667.8,1477.7 667.8,1481.6 680.2,1482.9 682.8,1488.1 697.0,1479.8 707.4,1477.7 707.4,1473.9 713.9,1475.2 717.8,1472.0 720.3,1475.2 726.8,1476.4 731.5,1486.8 744.9,1488.1 746.2,1492.0 754.0,1494.6 755.3,1501.0 750.1,1508.8 749.6,1517.9 753.2,1516.6 761.7,1519.2 768.7,1528.2 768.7,1533.4 773.9,1543.7 765.6,1551.5 761.7,1550.2 754.0,1559.3 748.8,1570.9 750.6,1580.0 748.8,1587.7 737.2,1591.6 726.8,1575.6 715.2,1572.2 715.2,1548.9 710.0,1559.3 699.6,1563.7 690.6,1559.3 692.7,1545.0 673.0,1537.3 673.0,1530.8 662.1,1528.2 658.2,1511.4 646.6,1512.7 636.2,1503.6Z" fill="#cfe9ea" stroke="#fff" stroke-width="2.1" stroke-linejoin="round"/>
<path d="M539.1,1973.6 547.5,1971.7 555.8,1979.7 545.7,1984.4 539.1,1984.4Z" fill="#e6e6e6" stroke="#fff" stroke-width="2.1" stroke-linejoin="round"/>
<path d="M882.6,1977.2 885.5,1989.9 883.3,2000.7 888.0,2020.7 882.6,2037.0 879.0,2051.4 873.6,2064.1 857.2,2053.3 861.6,2047.8 851.8,2034.1 850.0,2011.6 855.4,1997.1 871.7,1989.9 879.7,1982.6Z" fill="#cfe9ea" stroke="#fff" stroke-width="2.1" stroke-linejoin="round"/>
<path d="M99.6,1930.4 126.8,1927.5 130.4,1934.8 124.3,1940.2 124.3,1947.5 143.1,1947.5 159.4,1953.6 166.7,1953.6 168.5,1946.7 193.8,1956.5 193.8,1969.2 206.5,1980.1 195.7,1990.9 192.0,1994.6 177.5,1998.2 169.6,2003.6 172.1,2016.3 164.9,2043.5 152.2,2052.5 159.4,2062.3 146.7,2077.9 125.0,2075.4 137.7,2108.7 144.2,2115.9 126.8,2134.1 121.4,2147.8 128.6,2162.3 135.9,2162.3 128.6,2172.1 117.8,2177.5 99.6,2196.4 102.2,2217.4 77.9,2223.6 47.1,2208.3 30.8,2208.3 39.1,2193.8 47.1,2155.8 59.8,2126.8 39.1,2126.8 39.1,2114.1 29.7,2105.8 36.2,2090.6 45.3,2072.5 54.3,2065.9 59.8,2052.5 74.3,2034.4 81.5,2014.5 94.9,1990.9 94.9,1952.9 98.6,1934.8Z" fill="#00a3a6" stroke="#fff" stroke-width="2.1" stroke-linejoin="round"/>
<path d="M302.2,1231.2 314.9,1225.0 318.5,1216.7 345.7,1199.6 349.3,1197.8 365.6,1198.6 371.0,1203.3 378.3,1204.3 378.3,1212.3 380.1,1214.1 376.4,1217.8 383.7,1229.7 377.5,1237.7 379.0,1240.6 386.2,1243.1 389.9,1248.6 385.5,1255.8 381.9,1255.8 381.9,1260.1 374.6,1261.2 368.5,1269.6 360.1,1268.5 356.5,1265.9 347.5,1265.9 342.0,1259.4 345.7,1255.8 338.4,1252.9 338.4,1244.9 334.8,1243.1 331.2,1251.4 325.7,1257.6 311.2,1252.9 304.0,1239.5Z" fill="#e6e6e6" stroke="#fff" stroke-width="1" stroke-linejoin="round"/>
<path d="M1406.9,1977.5 1439.5,1969.2 1450.4,1978.3 1464.9,1981.9 1473.2,1994.6 1473.9,2021.0 1468.5,2030.8 1448.6,2038.0 1435.9,2039.9 1427.5,2053.6 1396.0,2062.7 1385.1,2059.8 1376.8,2050.7 1370.7,2043.5 1367.0,2036.2 1368.8,2021.7 1372.5,2019.9 1370.7,2003.6 1374.3,1996.4 1387.0,1985.5 1392.4,1985.5Z" fill="#e6e6e6" stroke="#fff" stroke-width="2.1" stroke-linejoin="round"/>
<path d="M1341.7,1969.2 1354.3,1980.1 1367.0,1996.4 1370.7,2003.6 1372.5,2019.9 1368.8,2021.7 1367.0,2036.2 1370.7,2043.5 1376.8,2050.7 1385.1,2059.8 1396.0,2062.7 1398.6,2074.3 1390.6,2088.8 1385.1,2110.5 1372.5,2117.8 1374.3,2128.6 1367.0,2143.1 1360.9,2142.0 1350.7,2119.6 1330.8,2105.1 1327.2,2085.1 1329.0,2063.4 1321.7,2050.7 1327.2,2032.6 1325.4,2012.7 1316.3,2011.6 1312.7,1992.8 1319.9,1974.6 1325.4,1967.4 1329.0,1974.6Z" fill="#e6e6e6" stroke="#fff" stroke-width="2.1" stroke-linejoin="round"/>
<path d="M1010.1,1914.9 1015.2,1914.9 1015.2,1919.9 1010.1,1919.9Z" fill="#cfe9ea" stroke="#fff" stroke-width="2.1" stroke-linejoin="round"/>
<path d="M1012.3,2031.5 1018.1,2031.5 1017.4,2037.7 1010.9,2037.7Z" fill="#cfe9ea" stroke="#fff" stroke-width="2.1" stroke-linejoin="round"/>
<path d="M1742.8,1970.3 1771.0,1967.4 1792.8,1960.1 1821.7,1954.7 1834.4,1943.8 1836.2,1936.6 1876.1,1898.6 1912.3,1876.8 1937.7,1869.6 1964.9,1862.3 1973.2,1849.6 1983.0,1862.3 1984.8,1860.9 1997.5,1863.8 2000.4,1867.4 2006.9,1861.2 2016.3,1855.4 2019.2,1858.3 2024.6,1858.3 2027.5,1867.4 2044.6,1873.6 2053.6,1863.8 2066.3,1863.8 2076.1,1867.4 2094.6,1867.4 2100.7,1860.9 2109.8,1863.8 2118.8,1863.8 2135.1,1860.9 2162.3,1837.3 2169.6,1833.0 2178.6,1835.9 2200.4,1833.0 2207.6,1822.8 2220.3,1813.0 2238.4,1788.4 2242.8,1773.2 2257.2,1773.2 2263.0,1767.0 2269.2,1764.1 2284.8,1760.5 2284.8,1750.7 2293.5,1747.8 2296.4,1750.7 2312.0,1754.3 2318.1,1760.5 2324.3,1757.6 2330.8,1764.1 2339.9,1767.0 2348.9,1773.2 2348.9,1791.3 2358.0,1804.0 2358.0,1810.5 2371.7,1810.5 2390.6,1801.1 2404.3,1809.4 2402.2,1813.0 2405.1,1831.9 2392.4,1841.3 2402.2,1851.8 2405.1,1860.1 2414.9,1867.4 2423.9,1889.1 2433.3,1889.1 2433.3,1916.3 2446.0,1916.3 2452.2,1919.9 2458.3,1932.6 2471.0,1939.1 2473.9,1943.5 2464.9,1946.4 2456.5,1961.6 2454.0,1959.1 2451.1,1950.0 2439.5,1950.0 2439.5,1954.3 2433.3,1960.9 2414.9,1967.0 2402.2,1967.0 2383.3,1976.1 2380.4,1991.3 2374.3,1997.8 2368.8,1991.3 2362.7,1991.3 2343.5,2009.8 2305.4,2025.0 2287.3,2044.9 2271.0,2063.0 2249.3,2078.6 2227.5,2084.8 2205.8,2081.9 2182.2,2100.0 2158.7,2114.5 2135.1,2111.6 2135.1,2131.5 2142.4,2142.4 2133.3,2148.6 2133.3,2160.5 2126.1,2173.2 2117.0,2173.9 2117.0,2164.1 2108.0,2150.7 2117.0,2127.9 2111.6,2118.1 2102.5,2118.1 2089.9,2131.5 2086.2,2143.5 2077.2,2148.6 2050.0,2146.0 2042.8,2147.1 2031.9,2164.1 2024.6,2182.2 2017.4,2184.1 2013.8,2193.1 1988.4,2204.0 1981.2,2207.6 1975.7,2214.1 1954.0,2213.0 1935.9,2195.7 1894.9,2189.5 1865.2,2195.7 1862.3,2202.9 1865.2,2216.7 1865.2,2233.0 1850.7,2233.0 1834.4,2248.6 1807.2,2243.8 1808.1,2244.2 1795.1,2226.6 1783.5,2230.0 1758.9,2225.6 1756.3,2228.7 1752.4,2228.7 1748.6,2217.8 1714.9,2226.6 1712.3,2223.5 1717.5,2220.9 1724.0,2211.9 1705.8,2208.0 1696.8,2195.0 1702.0,2192.4 1702.0,2178.2 1683.9,2169.2 1660.6,2166.6 1656.7,2158.8 1655.9,2149.0 1670.9,2156.2 1680.0,2149.7 1672.2,2136.8 1677.4,2125.2 1661.9,2104.5 1664.4,2090.2 1650.2,2090.2 1634.7,2098.0 1630.0,2095.4 1630.8,2070.8 1664.4,2035.9 1682.6,2038.5 1695.5,2034.6 1692.9,2026.8 1699.4,2026.3 1699.4,2032.0 1712.3,2028.1 1746.0,2021.6 1748.6,2013.9 1740.8,2010.0 1748.6,2002.2 1767.2,1994.5 1767.2,1990.6 1755.0,1990.1 1742.9,1982.8 1743.4,1969.9Z" fill="#00a3a6" stroke="#fff" stroke-width="2.1" stroke-linejoin="round"/>
<path d="M1616.6,1973.0 1617.9,1966.0 1623.0,1963.4 1624.3,1955.6 1642.4,1942.7 1655.4,1942.7 1663.1,1947.1 1683.9,1940.1 1685.1,1949.2 1691.1,1956.9 1689.0,1960.8 1730.4,1969.9 1728.4,1985.4 1724.0,1989.3 1698.1,1986.7 1675.6,1999.6 1668.3,2013.9 1667.0,2019.6 1651.5,2034.6 1647.6,2044.9 1634.2,2063.0 1630.8,2061.7 1630.8,2050.6 1647.6,2039.8 1646.3,2029.4 1617.1,2033.3 1614.5,2027.3 1624.8,2012.6 1619.2,1997.0 1630.8,1986.7 1625.6,1975.1Z" fill="#00a3a6" stroke="#fff" stroke-width="2.1" stroke-linejoin="round"/>
<path d="M807.6,1367.8 796.7,1365.2 777.3,1365.2 755.3,1371.6 734.6,1376.8 726.8,1379.4 724.2,1393.6 717.8,1405.3 708.7,1431.2 700.9,1436.3 694.5,1444.1 694.5,1450.6 688.0,1455.7 688.0,1467.4 677.6,1470.0 667.8,1477.7 667.8,1481.6 680.2,1482.9 682.8,1488.1 697.0,1479.8 707.4,1477.7 707.4,1473.9 713.9,1475.2 717.8,1472.0 720.3,1475.2 726.8,1476.4 731.5,1486.8 744.9,1488.1 746.2,1492.0 754.0,1494.6 755.3,1501.0 750.1,1508.8 749.6,1517.9 753.2,1516.6 761.7,1519.2 781.2,1508.8 786.3,1470.0 807.0,1444.1 820.0,1405.3 820.0,1374.2Z" fill="#cfe9ea" stroke="#fff" stroke-width="2.1" stroke-linejoin="round"/>
<path d="M765.6,1551.5 761.7,1550.2 754.0,1559.3 748.8,1570.9 750.6,1580.0 748.8,1587.7 755.3,1591.1 770.8,1594.2 777.3,1581.3 777.3,1572.2 765.6,1567.0Z" fill="#cfe9ea" stroke="#fff" stroke-width="2.1" stroke-linejoin="round"/>
<path d="M42.8,2111.2 48.9,2106.2 54.3,2105.8 54.3,2112.3 47.1,2116.7Z" fill="#e6e6e6" stroke="#fff" stroke-width="2.1" stroke-linejoin="round"/>
<path d="M1339.9,1960.1 1352.5,1951.1 1358.0,1951.1 1359.8,1933.0 1367.0,1925.7 1372.5,1931.2 1383.3,1931.9 1396.0,1945.7 1397.8,1949.3 1410.5,1951.1 1410.5,1967.4 1405.1,1972.8 1406.9,1977.5 1392.4,1985.5 1387.0,1985.5 1374.3,1996.4 1370.7,2003.6 1367.0,1996.4 1354.3,1980.1 1341.7,1969.2Z" fill="#e6e6e6" stroke="#fff" stroke-width="2.1" stroke-linejoin="round"/>
<path d="M1149.3,1834.7 1155.7,1834.7 1166.1,1845.0 1175.2,1833.4 1182.9,1832.1 1192.0,1828.2 1199.7,1833.4 1220.4,1833.4 1229.5,1836.0 1238.6,1830.8 1241.1,1831.6 1251.5,1829.5 1273.5,1832.1 1273.5,1838.6 1278.7,1842.4 1296.8,1840.4 1291.6,1851.5 1290.3,1864.4 1300.7,1878.7 1308.4,1889.0 1300.7,1895.5 1308.4,1908.4 1298.1,1918.8 1289.0,1920.1 1286.4,1926.6 1291.6,1930.4 1289.0,1934.3 1283.9,1933.0 1277.4,1938.2 1276.6,1949.8 1270.9,1952.4 1273.5,1964.1 1270.9,1977.0 1242.4,1964.1 1236.0,1963.6 1233.4,1956.3 1216.6,1938.2 1215.3,1933.0 1175.2,1894.2 1166.1,1887.7 1162.2,1877.4 1157.0,1873.5 1148.0,1863.1 1144.6,1851.5Z" fill="#e6e6e6" stroke="#fff" stroke-width="2.1" stroke-linejoin="round"/>
<path d="M1289.0,1920.1 1298.1,1918.8 1317.5,1930.4 1338.2,1943.4 1350.6,1948.6 1338.2,1960.2 1342.1,1969.8 1330.4,1975.7 1326.6,1966.7 1320.1,1974.4 1312.3,1991.3 1316.2,2013.3 1309.7,2005.5 1296.8,1992.5 1270.9,1977.0 1273.5,1964.1 1270.9,1952.4 1276.6,1949.8 1277.4,1938.2 1283.9,1933.0 1289.0,1934.3 1291.6,1930.4 1286.4,1926.6Z" fill="#e6e6e6" stroke="#fff" stroke-width="2.1" stroke-linejoin="round"/>
<path d="M864.0,1281.1 879.5,1286.2 892.4,1286.2 905.4,1292.7 906.7,1305.6 914.4,1313.4 920.9,1312.1 936.4,1317.8 939.5,1314.7 944.2,1318.6 943.7,1323.8 936.4,1327.6 935.1,1336.7 958.4,1334.1 966.2,1327.6 988.2,1318.6 996.0,1309.5 1002.4,1312.1 1011.5,1309.0 1019.8,1313.4 1018.7,1299.2 1023.1,1296.6 1029.6,1305.6 1024.4,1312.1 1019.3,1318.6 1027.0,1326.3 1040.0,1325.1 1046.4,1332.8 1051.6,1332.8 1065.8,1336.7 1084.0,1358.7 1107.2,1482.9 1091.7,1625.3 1055.5,1653.7 1029.6,1715.8 962.3,1728.8 910.6,1728.8 897.6,1718.4 892.4,1708.6 875.6,1701.6 858.8,1700.3 857.5,1695.7 848.4,1694.6 843.3,1701.6 827.7,1706.8 814.8,1706.8 812.2,1695.1 814.8,1677.0 820.0,1666.7 823.1,1651.1 827.7,1642.1 839.4,1624.5 829.0,1622.7 820.0,1620.1 809.1,1612.3 801.9,1615.4 792.8,1609.7 785.8,1612.3 777.3,1598.1 770.8,1594.2 777.3,1581.3 777.3,1572.2 765.6,1567.0 765.6,1551.5 773.9,1543.7 768.7,1533.4 768.7,1528.2 761.7,1519.2 764.3,1511.4 761.7,1502.3 768.2,1493.3 765.6,1490.7 770.8,1484.2 770.8,1476.4 761.7,1460.1 773.4,1454.5 780.6,1457.0 792.8,1450.6 792.8,1442.8 806.3,1435.0 803.2,1423.4 794.1,1419.5 794.1,1412.5 801.9,1411.7 805.7,1400.1 812.2,1393.6 813.5,1375.5 807.6,1367.8 808.3,1361.3 814.8,1353.5 839.4,1351.4 844.6,1358.7 841.2,1361.8 843.3,1366.5 849.7,1366.5 850.5,1360.0 859.6,1360.0 860.1,1347.0 874.3,1344.5 883.4,1341.1 874.3,1340.6 867.9,1332.8 874.3,1327.6 866.6,1321.2 866.6,1312.1 873.0,1305.6 870.4,1296.6Z" fill="#99d3d5" stroke="#fff" stroke-width="2.1" stroke-linejoin="round"/>
<path d="M1263.7,355.4 1274.9,365.0 1284.5,368.2 1294.2,371.4 1300.6,381.7 1299.0,393.0 1301.5,405.8 1298.3,415.4 1301.5,423.4 1301.5,436.3 1307.0,452.3 1324.6,458.1 1347.1,478.0 1346.5,494.0 1341.3,524.5 1353.5,540.6 1372.8,561.4 1384.0,584.5 1378.6,588.7 1381.8,596.7 1385.6,612.8 1390.4,620.8 1392.7,633.6 1401.7,641.7 1408.1,656.1 1424.1,670.5 1424.1,677.0 1416.1,692.4 1430.5,705.8 1445.0,709.0 1456.2,715.5 1472.3,730.9 1472.3,754.0 1432.1,850.2 1432.1,859.9 1424.1,861.5 1412.9,885.5 1392.0,896.8 1380.8,904.8 1374.4,902.2 1375.3,909.6 1369.6,911.2 1368.0,918.3 1347.1,922.5 1331.1,932.1 1321.4,943.3 1311.8,948.1 1289.3,954.5 1285.5,946.5 1274.9,951.3 1266.2,938.5 1260.5,929.8 1250.8,943.3 1242.8,938.5 1233.2,933.7 1228.4,914.4 1230.9,898.4 1230.9,872.7 1228.4,866.3 1230.0,861.5 1220.3,834.2 1215.5,818.2 1205.9,798.9 1205.9,789.3 1210.7,793.1 1212.3,782.9 1215.5,774.8 1223.6,765.2 1234.1,765.2 1228.4,757.2 1234.8,742.7 1238.0,731.5 1250.8,725.1 1253.4,718.7 1257.2,717.1 1260.5,699.4 1268.5,683.4 1271.7,667.3 1281.3,662.5 1286.8,661.9 1284.5,648.1 1278.1,628.8 1273.3,622.4 1265.3,619.8 1254.0,619.8 1244.4,612.8 1245.4,607.0 1231.6,588.7 1226.8,577.5 1230.0,569.5 1230.0,555.7 1215.5,533.5 1218.1,523.6 1210.7,522.9 1212.3,515.9 1206.5,503.7 1208.5,494.0 1201.1,488.3 1194.7,487.0 1192.4,478.0 1166.7,470.0 1141.7,453.3 1137.9,447.5 1133.7,443.3 1140.1,444.3 1141.1,433.1 1143.3,429.2 1148.8,428.6 1161.0,436.9 1173.8,455.5 1188.3,458.7 1197.9,453.0 1202.0,444.3 1226.8,455.5 1230.9,452.3 1230.9,439.5 1239.6,425.0 1234.1,415.4 1234.1,388.1 1236.4,378.5 1239.6,371.4 1250.8,368.9 1258.9,359.3Z" fill="#00a3a6" stroke="#fff" stroke-width="2.1" stroke-linejoin="round"/>
<path d="M1440.7,951.4 1432.9,956.1 1407.0,958.7 1374.7,956.6 1373.9,960.0 1370.8,956.6 1363.6,960.8 1360.5,966.5 1352.2,969.6 1346.2,967.0 1344.9,971.1 1333.3,975.5 1328.9,982.0 1325.5,983.3 1326.8,987.2 1317.8,991.0 1312.6,996.2 1315.2,1016.9 1317.8,1015.6 1318.5,1027.3 1329.4,1037.6 1335.9,1040.2 1348.8,1035.0 1352.7,1062.2 1354.8,1070.0 1361.7,1098.4 1355.3,1111.4 1348.8,1117.9 1338.5,1121.2 1326.8,1117.9 1319.0,1104.9 1311.3,1099.7 1299.6,1093.3 1297.0,1084.2 1275.1,1099.7 1268.6,1115.3 1268.6,1125.6 1262.1,1145.0 1262.1,1169.6 1269.4,1186.4 1275.1,1211.0 1283.3,1229.9 1295.8,1235.1 1311.3,1237.7 1326.8,1235.1 1339.8,1248.6 1336.6,1261.5 1342.3,1274.4 1344.9,1273.1 1363.0,1280.9 1369.5,1290.0 1372.1,1293.8 1400.6,1290.0 1403.9,1281.7 1410.1,1280.9 1410.1,1273.1 1420.0,1272.4 1422.6,1264.1 1431.6,1260.2 1434.2,1243.4 1430.3,1229.1 1435.5,1220.1 1444.6,1216.2 1447.2,1205.8 1458.8,1198.1 1450.5,1194.2 1450.5,1173.0 1466.6,1160.0 1479.0,1160.0 1479.0,1150.2 1491.1,1132.1 1491.1,1126.9 1472.3,1099.7 1466.6,1099.7 1466.6,1073.9 1456.2,1070.0 1450.5,1062.7 1444.6,1062.2 1445.3,1053.2 1449.7,1040.2 1442.0,1023.4 1438.1,1010.5 1429.0,992.3 1435.5,978.1 1437.6,966.5Z" fill="#00a3a6" stroke="#fff" stroke-width="2.1" stroke-linejoin="round"/>
<path d="M1280.7,1016.9 1288.0,1007.3 1297.8,1015.6 1289.3,1024.7Z" fill="#00a3a6" stroke="#fff" stroke-width="2.1" stroke-linejoin="round"/>
<path d="M1272.5,1046.7 1275.1,1054.5 1284.1,1058.3 1293.2,1054.5 1302.2,1042.8 1310.0,1038.9 1311.3,1029.9 1307.4,1028.6 1290.6,1035.0 1284.1,1042.8 1280.2,1041.5 1277.6,1046.7Z" fill="#00a3a6" stroke="#fff" stroke-width="2.1" stroke-linejoin="round"/>
<path d="M1439.5,1858.7 1449.3,1862.3 1448.6,1869.6 1454.0,1878.6 1470.3,1872.5 1510.1,1872.5 1555.4,1867.8 1562.7,1865.9 1575.4,1856.9 1579.0,1849.6 1588.0,1840.6 1606.2,1831.5 1626.1,1825.4 1635.1,1829.0 1653.3,1825.4 1660.5,1835.1 1681.5,1835.1 1684.1,1851.4 1669.6,1856.9 1663.4,1871.4 1665.9,1891.3 1656.9,1915.9 1684.1,1939.5 1670.3,1943.8 1653.3,1941.3 1642.4,1942.0 1624.3,1954.7 1623.6,1962.0 1617.0,1964.5 1617.0,1971.0 1604.3,1972.8 1610.5,1981.9 1610.5,1993.5 1571.7,2005.4 1562.7,2003.6 1539.1,1999.3 1521.0,2001.8 1520.3,2007.2 1473.9,2021.0 1473.2,1994.6 1464.9,1981.9 1450.4,1978.3 1439.5,1969.2 1444.9,1962.0 1439.5,1940.2 1442.0,1934.8 1452.2,1933.0 1459.4,1913.0 1448.6,1904.0 1443.1,1902.2 1434.1,1896.7 1426.8,1884.1 1426.8,1873.2 1434.1,1865.9Z" fill="#99d3d5" stroke="#fff" stroke-width="2.1" stroke-linejoin="round"/>
<path d="M1188.0,945.0 1196.0,947.0 1199.0,952.0 1192.0,951.0Z" fill="#00a3a6" stroke="none" stroke-width="2.1" stroke-linejoin="round"/>
<path d="M1202.0,955.0 1209.0,957.0 1208.0,961.0 1203.0,960.0Z" fill="#00a3a6" stroke="none" stroke-width="2.1" stroke-linejoin="round"/>
<path d="M1222.0,940.0 1228.0,938.0 1230.0,945.0 1224.0,947.0Z" fill="#00a3a6" stroke="none" stroke-width="2.1" stroke-linejoin="round"/>
<path d="M1240.0,932.0 1246.0,930.0 1248.0,938.0 1242.0,940.0Z" fill="#00a3a6" stroke="none" stroke-width="2.1" stroke-linejoin="round"/>
<path d="M896.9,1715.9 897.7,1718.5 906.8,1710.7 915.8,1719.8 913.3,1726.2 926.2,1721.1 926.7,1710.7 943.0,1709.4 949.5,1718.5 962.9,1716.9 964.2,1713.6 979.8,1706.6 995.3,1702.7 995.3,1697.5 1000.5,1701.4 1005.6,1700.1 1009.5,1704.8 1013.4,1700.9 1022.5,1709.9 1029.7,1709.9 1029.7,1699.6 1025.1,1696.2 1023.8,1684.6 1014.2,1676.3 1038.5,1660.0 1042.7,1644.5 1052.2,1649.6 1054.8,1643.2 1054.8,1634.9 1065.9,1642.7 1078.1,1640.6 1089.8,1643.2 1091.8,1634.1 1098.8,1631.5 1102.7,1621.2 1144.1,1622.5 1159.6,1621.2 1174.6,1626.3 1179.0,1633.3 1177.2,1643.2 1182.9,1658.7 1186.0,1671.1 1184.2,1688.5 1170.0,1685.9 1163.5,1691.0 1171.3,1692.9 1171.3,1704.8 1162.2,1711.7 1164.8,1728.6 1157.0,1736.3 1150.6,1740.2 1150.6,1749.3 1131.2,1751.9 1116.9,1754.5 1105.3,1759.6 1091.0,1771.3 1084.6,1769.5 1061.3,1766.9 1052.2,1763.5 1027.6,1760.9 1010.8,1755.7 992.7,1740.2 1000.5,1736.3 995.3,1734.3 981.1,1740.2 968.1,1741.5 955.2,1745.4 950.0,1750.6 926.8,1750.7 924.4,1739.9 913.5,1750.7 893.6,1738.0 892.5,1728.6Z" fill="#99d3d5" stroke="#fff" stroke-width="2.1" stroke-linejoin="round"/>
<path d="M1170.0,1757.0 1192.0,1770.0 1204.9,1784.2 1217.9,1789.4 1229.5,1793.8 1251.5,1793.8 1267.8,1784.2 1273.5,1798.4 1277.4,1804.9 1275.6,1811.4 1282.6,1817.9 1294.2,1821.7 1283.9,1825.6 1282.6,1834.7 1283.9,1840.4 1278.7,1842.4 1273.5,1838.6 1273.5,1832.1 1251.5,1829.5 1241.1,1831.6 1238.6,1830.8 1229.5,1836.0 1220.4,1833.4 1199.7,1833.4 1192.0,1828.2 1182.9,1832.1 1175.2,1833.4 1166.1,1845.0 1155.7,1834.7 1149.3,1834.7 1144.6,1851.5 1148.0,1863.1 1157.0,1873.5 1162.2,1877.4 1166.1,1887.7 1175.2,1894.2 1215.3,1933.0 1216.6,1938.2 1233.4,1956.3 1229.5,1962.8 1216.6,1952.4 1193.3,1938.2 1179.0,1930.4 1166.1,1933.0 1146.7,1912.3 1136.3,1911.0 1128.1,1895.5 1133.7,1891.6 1120.8,1877.4 1113.0,1865.7 1111.7,1850.2 1104.0,1842.4 1105.3,1855.4 1093.6,1847.6 1089.8,1834.7 1084.6,1834.7 1074.2,1860.6 1069.0,1861.9 1056.1,1842.4 1053.5,1828.2 1056.1,1826.9 1091.0,1819.2 1096.2,1814.0 1105.3,1823.0 1110.5,1819.2 1123.9,1823.0 1128.6,1804.1 1138.9,1800.5 1136.9,1778.3 1154.5,1766.9 1160.1,1764.8 1162.2,1759.1Z" fill="#007b8b" stroke="#fff" stroke-width="2.1" stroke-linejoin="round"/>
<path d="M1236.0,1963.6 1242.4,1964.1 1270.9,1979.6 1269.6,1981.7 1250.2,1973.1 1234.7,1966.7Z" fill="#007b8b" stroke="#fff" stroke-width="2.1" stroke-linejoin="round"/>
<path d="M1086.1,1836.7 1089.8,1838.6 1092.9,1867.0 1091.3,1873.5 1089.2,1858.0Z" fill="#007b8b" stroke="none" stroke-width="2.1" stroke-linejoin="round"/>
<path d="M1100.1,1884.4 1102.2,1883.3 1115.6,1898.1 1114.1,1899.4Z" fill="#007b8b" stroke="none" stroke-width="2.1" stroke-linejoin="round"/>
<path d="M1184.2,1951.1 1193.3,1949.8 1194.6,1952.4 1185.5,1954.2Z" fill="#007b8b" stroke="none" stroke-width="2.1" stroke-linejoin="round"/>
<path d="M1193.3,1962.8 1211.4,1957.6 1212.7,1960.2 1198.4,1964.1Z" fill="#007b8b" stroke="none" stroke-width="2.1" stroke-linejoin="round"/>
<path d="M744.9,1788.8 754.0,1785.1 766.7,1770.7 779.3,1771.7 779.3,1787.0 790.2,1801.4 801.1,1802.2 812.0,1799.6 821.0,1802.2 833.7,1787.0 833.7,1781.5 844.6,1772.5 846.4,1785.1 855.4,1794.2 860.9,1794.2 864.5,1808.7 871.0,1805.8 868.1,1797.8 877.2,1783.3 880.8,1768.8 888.0,1781.5 904.3,1777.9 910.9,1776.1 913.4,1785.1 914.5,1768.8 910.9,1763.4 915.2,1761.6 926.1,1768.8 926.8,1750.7 924.3,1739.9 913.4,1750.7 893.5,1738.0 891.7,1727.2 897.1,1716.3 884.4,1703.6 864.5,1700.0 857.2,1696.4 853.6,1693.5 848.2,1698.2 851.8,1701.8 835.5,1705.4 817.4,1708.0 812.0,1710.9 795.7,1710.1 788.4,1718.1 786.6,1727.2 770.3,1743.5 766.7,1754.3 750.4,1771.7Z" fill="#e6e6e6" stroke="#fff" stroke-width="2.1" stroke-linejoin="round"/>
<path d="M1352.7,1062.7 1365.6,1054.5 1379.9,1048.8 1400.6,1055.0 1420.0,1070.5 1431.6,1062.2 1444.6,1064.3 1450.5,1062.7" fill="none" stroke="#fff" stroke-width="2.1" stroke-linejoin="round"/>
<path d="M1269.4,1186.4 1277.6,1172.2 1298.3,1161.9 1320.3,1161.9 1323.7,1158.0 1329.4,1160.6 1348.8,1155.4 1364.3,1158.0 1376.0,1154.9 1385.0,1142.4 1395.4,1154.9 1414.8,1155.4 1426.4,1164.4 1442.0,1173.5 1450.5,1173.0" fill="none" stroke="#fff" stroke-width="2.1" stroke-linejoin="round"/>
<path d="M1408.7,1638.4 1419.6,1633.3 1433.3,1637.7 1459.4,1634.8 1473.2,1629.7 1495.7,1638.4 1501.1,1626.8 1532.6,1616.7 1537.3,1612.3 1539.1,1601.4 1550.0,1594.9 1559.1,1596.0 1573.6,1606.9 1582.6,1625.0 1618.8,1652.2 1620.7,1659.4 1631.5,1672.1 1631.5,1702.9 1640.6,1729.0 1638.8,1731.9 1653.3,1747.5 1671.4,1747.5 1694.9,1730.1 1704.0,1731.9 1709.4,1758.0 1691.3,1768.1 1678.6,1800.7 1681.5,1818.8 1681.5,1835.1 1660.5,1835.1 1653.3,1825.4 1635.1,1829.0 1626.1,1825.4 1606.2,1831.5 1588.0,1840.6 1579.0,1849.6 1575.4,1856.9 1562.7,1865.9 1555.4,1867.8 1510.1,1872.5 1470.3,1872.5 1454.0,1878.6 1448.6,1869.6 1449.3,1862.3 1437.0,1856.9 1426.1,1847.1 1437.0,1838.8 1432.2,1835.1 1421.4,1832.2 1412.3,1846.0 1397.8,1838.8 1387.0,1836.2 1377.9,1829.0 1383.3,1824.3 1376.8,1820.7 1379.7,1809.8 1358.0,1802.5 1348.9,1795.3 1348.9,1783.3 1327.2,1764.5 1339.1,1760.1 1341.7,1750.7 1354.3,1748.2 1359.8,1740.9 1359.8,1728.3 1367.0,1719.2 1379.7,1670.3 1385.1,1664.9 1396.0,1654.0 1401.4,1652.2Z" fill="#00a3a6" stroke="#fff" stroke-width="2.1" stroke-linejoin="round"/>
<path d="M1056.9,1339.8 1069.9,1332.0 1075.1,1326.8 1093.2,1317.8 1117.8,1311.3 1128.1,1295.8 1139.8,1289.3 1152.7,1280.2 1168.2,1276.3 1188.9,1271.2 1198.0,1288.0 1201.9,1293.2 1210.9,1295.8 1222.6,1291.9 1222.6,1298.3 1227.2,1298.3 1238.1,1286.7 1298.9,1285.9 1341.6,1276.3 1345.5,1273.8 1358.4,1278.9 1366.2,1286.7 1370.1,1294.5 1374.0,1308.7 1388.2,1337.2 1393.9,1351.4 1393.9,1363.0 1381.7,1374.7 1375.8,1392.0 1393.9,1400.6 1393.9,1421.3 1398.6,1436.8 1406.3,1449.7 1422.4,1466.6 1419.3,1469.7 1424.4,1479.5 1424.4,1490.4 1412.0,1496.3 1403.7,1518.3 1385.1,1551.4 1393.4,1577.8 1367.5,1574.7 1358.4,1567.0 1339.0,1566.2 1331.3,1568.8 1323.5,1575.3 1309.3,1572.2 1300.2,1572.7 1291.9,1578.4 1291.9,1588.2 1280.0,1588.2 1280.0,1579.1 1271.7,1574.0 1264.0,1566.2 1254.9,1578.4 1247.2,1579.1 1242.0,1575.3 1239.4,1567.5 1231.6,1562.3 1229.0,1554.6 1207.0,1548.1 1200.6,1551.4 1192.8,1545.5 1196.2,1535.1 1183.7,1539.0 1163.6,1529.2 1166.1,1537.7 1163.6,1546.3 1155.3,1548.1 1138.5,1531.3 1145.4,1523.5 1112.6,1513.7 1104.0,1513.1 1099.6,1503.3 1095.2,1501.5 1088.0,1510.6 1093.2,1495.0 1092.7,1486.0 1085.4,1475.6 1080.7,1471.7 1079.7,1462.7 1075.1,1453.6 1079.7,1442.0 1069.9,1422.6 1073.8,1413.5 1055.6,1398.0 1054.9,1392.8 1060.8,1386.3 1060.8,1377.3 1064.7,1372.9 1060.8,1371.3 1054.9,1348.8Z" fill="#00a3a6" stroke="#fff" stroke-width="2.1" stroke-linejoin="round"/>
<path d="M1182.5,1619.8 1192.8,1620.5 1201.9,1617.2 1216.9,1602.4 1217.4,1591.3 1224.6,1586.9 1232.9,1576.6 1242.0,1575.3 1247.2,1579.1 1254.9,1578.4 1264.0,1566.2 1271.7,1574.0 1280.0,1579.1 1280.0,1588.2 1291.9,1588.2 1291.9,1578.4 1300.2,1572.7 1309.3,1572.2 1323.5,1575.3 1331.3,1568.8 1339.0,1566.2 1358.4,1567.0 1367.5,1574.7 1393.4,1577.8 1384.3,1579.9 1379.1,1596.0 1379.1,1603.7 1375.8,1611.5 1375.8,1622.4 1362.3,1640.0 1284.7,1665.8 1232.9,1691.7 1196.7,1678.8 1185.8,1671.0 1181.2,1658.1 1173.9,1643.8 1177.3,1631.7Z" fill="#00a3a6" stroke="#fff" stroke-width="2.1" stroke-linejoin="round"/>
<path d="M1061.3,1766.9 1084.6,1769.5 1091.0,1771.3 1105.3,1759.6 1116.9,1754.5 1131.2,1751.9 1150.6,1749.3 1150.6,1740.2 1157.0,1736.3 1162.2,1738.9 1170.0,1757.0 1162.2,1759.1 1160.1,1764.8 1154.5,1766.9 1136.9,1778.3 1138.9,1800.5 1128.6,1804.1 1123.9,1823.0 1110.5,1819.2 1105.3,1823.0 1096.2,1814.0 1091.0,1819.2 1056.1,1826.9 1057.4,1821.7 1066.5,1816.6 1062.6,1811.4 1052.2,1804.9 1050.4,1794.6 1054.8,1787.6 1047.0,1780.3 1052.2,1777.7 1058.7,1770.0Z" fill="#00a3a6" stroke="#fff" stroke-width="2.1" stroke-linejoin="round"/>
<path d="M1041.4,1338.5 1068.6,1337.7 1066.0,1348.8 1046.6,1348.0Z" fill="#ffffff" stroke="none" stroke-width="2.1" stroke-linejoin="round"/>
<path d="M984.8,1545.7 995.2,1554.0 1005.5,1541.0 1014.3,1538.5 1017.5,1542.1 1020.0,1534.9 1039.7,1526.0 1042.8,1519.9 1049.0,1519.9 1068.2,1510.5 1064.6,1504.3 1067.7,1501.2 1073.9,1501.2 1076.5,1504.3 1076.5,1510.0 1083.2,1513.6 1085.8,1510.5 1093.5,1510.5 1095.6,1501.2 1101.8,1504.3 1104.4,1513.1 1112.2,1513.1 1145.8,1523.0 1138.5,1531.3 1155.3,1548.1 1163.6,1546.3 1166.1,1537.7 1163.6,1529.2 1183.7,1539.0 1196.2,1535.1 1192.8,1545.5 1200.6,1551.4 1207.0,1548.1 1229.0,1554.6 1231.6,1562.3 1239.4,1567.5 1242.0,1575.3 1232.9,1576.6 1224.6,1586.9 1217.4,1591.3 1216.9,1602.4 1201.9,1617.2 1192.8,1620.5 1182.5,1619.8 1177.3,1631.7 1169.5,1625.7 1150.1,1628.3 1130.8,1626.0 1120.5,1622.9 1101.8,1619.2 1098.7,1632.2 1092.5,1635.3 1089.4,1645.1 1079.0,1641.5 1077.0,1644.6 1067.1,1644.6 1054.7,1635.3 1045.9,1622.9 1039.7,1622.9 1021.1,1603.7 1015.9,1601.1 1008.7,1593.0 1008.7,1591.8 998.8,1578.9 1005.5,1569.5 992.1,1562.8Z" fill="#007b8b" stroke="#fff" stroke-width="2.1" stroke-linejoin="round"/>
<path d="M1186.0,1671.1 1208.8,1680.7 1217.9,1682.5 1255.4,1673.7 1252.3,1667.8 1256.7,1660.0 1274.8,1656.1 1278.7,1646.3 1296.8,1649.6 1308.4,1636.7 1314.9,1625.1 1333.0,1619.9 1336.9,1621.9 1348.6,1616.8 1361.5,1626.3 1377.0,1623.0 1408.1,1640.1 1400.3,1653.0 1395.1,1653.5 1387.4,1662.6 1384.8,1666.5 1381.7,1667.8 1378.3,1676.8 1378.3,1684.6 1369.3,1715.6 1361.0,1736.9 1360.2,1746.7 1352.4,1750.6 1340.8,1751.9 1337.7,1760.1 1326.6,1763.5 1299.4,1762.7 1280.0,1775.2 1274.8,1775.7 1273.5,1781.6 1267.8,1784.2 1251.5,1793.8 1229.5,1793.8 1217.9,1789.4 1204.9,1784.2 1192.0,1770.0 1170.0,1757.0 1162.2,1738.9 1157.0,1736.3 1164.8,1728.6 1162.2,1711.7 1171.3,1704.8 1171.3,1692.9 1163.5,1691.0 1170.0,1685.9 1184.2,1688.5Z" fill="#007b8b" stroke="#fff" stroke-width="2.1" stroke-linejoin="round"/>
</g>
<text x="68" y="149.8" font-family="Liberation Sans, sans-serif" font-weight="bold" font-size="100" fill="#00788a" stroke="#00788a" stroke-width="1.6" textLength="1205" lengthAdjust="spacingAndGlyphs">Overweight population (BMI≥25)</text>
<text x="70.5" y="262.6" font-family="Liberation Sans, sans-serif" font-style="italic" font-size="78" fill="#00788a" textLength="921" lengthAdjust="spacingAndGlyphs">% of adult population, 2019</text>
<path d="M1798.7,725.5 A212.7,212.7 0 0 1 1834.0,607.4 L1870.1,631.2 A169.5,169.5 0 0 0 1841.9,725.4Z" fill="#99d3d5"/>
<path d="M1841.4,724.8 A170,170 0 0 1 1869.6,631.0 L1940.5,677.9 A85,85 0 0 0 1926.4,724.8Z" fill="#cfe9ea"/>
<path d="M1833.2,608.6 A212.7,212.7 0 0 1 1922.2,531.7 L1940.3,570.9 A169.5,169.5 0 0 0 1869.4,632.2Z" fill="#45b8be"/>
<path d="M1869.0,632.0 A170,170 0 0 1 1940.1,570.5 L1975.7,647.6 A85,85 0 0 0 1940.2,678.4Z" fill="#99d3d5"/>
<path d="M1920.8,532.3 A212.7,212.7 0 0 1 2095.2,529.3 L2078.2,569.0 A169.5,169.5 0 0 0 1939.2,571.4Z" fill="#00a3a6"/>
<path d="M1939.0,571.0 A170,170 0 0 1 2078.4,568.5 L2044.9,646.7 A85,85 0 0 0 1975.2,647.9Z" fill="#45b8be"/>
<path d="M2093.8,528.7 A212.7,212.7 0 0 1 2193.1,614.3 L2156.2,636.7 A169.5,169.5 0 0 0 2077.1,568.5Z" fill="#008c95"/>
<path d="M2077.3,568.1 A170,170 0 0 1 2156.7,636.5 L2084.0,680.6 A85,85 0 0 0 2044.3,646.4Z" fill="#00a3a6"/>
<path d="M2192.4,613.0 A212.7,212.7 0 0 1 2224.1,724.8 L2180.9,724.8 A169.5,169.5 0 0 0 2155.6,635.7Z" fill="#007b8b"/>
<path d="M2156.0,635.5 A170,170 0 0 1 2181.4,724.8 L2096.4,724.8 A85,85 0 0 0 2083.7,680.1Z" fill="#008c95"/>
<path d="M1841.4,724.8 A170,170 0 0 1 1869.6,631.0 L1940.5,677.9 A85,85 0 0 0 1926.4,724.8Z" fill="#99d3d5"/>
<path d="M1842.4,721.0 A169,169 0 0 1 1870.5,631.5 L1938.0,676.2 A88,88 0 0 0 1923.4,722.8Z" fill="#cfe9ea"/>
<path d="M1956.9,724.8 A54.5,54.5 0 0 1 2065.9,724.8Z" fill="#00a3a6"/>
<path d="M1974.9,724.8 A36.5,36.5 0 0 1 2047.9,724.8Z" fill="#008c95"/>
<path d="M2019.2,712.5 L2043.7,587.9 L2040.7,587.1 L2003.6,708.7Z" fill="#99d3d5"/>
<circle cx="2011.4" cy="710.6" r="10" fill="#99d3d5"/><circle cx="2011.4" cy="710.6" r="4.3" fill="#008c95"/>
<text x="1896" y="832.5" font-family="Liberation Sans, sans-serif" font-weight="bold" font-size="137" fill="#00a3a6" stroke="#00a3a6" stroke-width="3" textLength="254" lengthAdjust="spacingAndGlyphs">BMI</text>
<g transform="translate(1650,600) scale(0.13975)">
<path d="M320,725 250,830 235,1000 215,1300 160,1430 125,1560 118,1740 175,1745 215,1640 300,1430 380,1270 455,1080 630,1380 640,1500 690,1640 760,1735 822,1735 790,1580 755,1390 745,1260 700,1060 630,860 500,840Z" fill="#008c95"/>
<path d="M118,1740 175,1745 205,1780 260,1795 265,1815 95,1815 100,1775Z" fill="#99d3d5"/>
<path d="M760,1738 822,1738 850,1780 910,1795 915,1815 745,1815 750,1775Z" fill="#99d3d5"/>
<path d="M745,640 880,630 870,720 870,830 900,930 960,1110 1000,1180 970,1190 975,1245 945,1225 920,1150 800,920 775,850 760,750Z" fill="#fdb072"/>
<path d="M915,690 1000,610 1040,720 1080,800 1150,880 1215,905 1235,950 1215,975 1190,950 1060,905 990,830 940,740Z" fill="#fdb072"/>
<path d="M320,725 L440,620 Q600,490 740,430 Q830,405 900,420 L960,500 L1000,610 Q960,670 870,715 L880,630 L745,640 L740,755 L700,780 L630,860 Q480,850 320,725Z" fill="#45b8be"/>
<path d="M985,470 1020,465 1050,500 1055,560 1040,600 1010,650 1000,600 995,540 975,500Z" fill="#2b3a6b"/>
<path d="M960,330 1100,305 1105,360 1085,395 1060,430 1030,455 1000,450 985,470 960,510 930,500 900,430 940,390Z" fill="#fdb072"/>
<path d="M880,200 Q960,140 1040,175 Q1100,210 1135,320 L1125,360 L1100,385 L1105,310 Q1050,345 985,355 L950,340 L935,400 L900,420 L770,415 Q760,360 865,285Z" fill="#2b3a6b"/>
<path d="M1000,1110 C1100,1080 1200,1110 1250,1090 C1330,1040 1400,985 1480,980 C1650,985 1745,1120 1745,1290 C1745,1500 1650,1640 1480,1665 C1400,1670 1330,1730 1230,1730 C1050,1720 900,1560 875,1350 C865,1230 920,1140 1000,1110Z" fill="#45b8be"/>
<path d="M1060,1130 C1150,1100 1210,1125 1270,1100 C1350,1050 1400,1000 1480,985 C1650,985 1745,1120 1745,1290 C1745,1500 1650,1640 1480,1660 C1400,1650 1350,1690 1290,1680 C1120,1640 1000,1470 985,1320 C975,1220 1000,1160 1060,1130Z" fill="#99d3d5"/>
<ellipse cx="1527" cy="1100" rx="72" ry="52" transform="rotate(30 1527 1100)" fill="#cfe9ea"/>
<path d="M1245,855 C1290,800 1360,770 1400,805 C1440,840 1470,880 1500,905 C1440,925 1380,930 1340,900 C1310,880 1270,880 1245,885Z" fill="#45b8be"/>
<path d="M1215,790 1235,800 1240,840 1225,960 1235,1040 1255,1095 1245,1110 1215,1060 1198,960 1200,850Z" fill="#1f3b8c"/>
<path d="M920,1150 960,1120 1000,1180 970,1190 975,1245 945,1225Z" fill="#fdb072"/>
<path d="M1190,930 1225,905 1238,950 1215,975Z" fill="#fdb072"/>
</g>
<g transform="translate(2140,580) scale(0.1501)">
<rect x="148" y="1765" width="1072" height="38" fill="#00a3a6"/><rect x="190" y="1803" width="28" height="25" fill="#2b3a6b"/><rect x="1112" y="1803" width="30" height="25" fill="#2b3a6b"/>
<rect x="238" y="1175" width="30" height="590" fill="#00a3a6"/>
<path d="M70,1092 385,1085 410,1100 430,1160 420,1178 110,1180 95,1170Z" fill="#00a3a6"/>
<path d="M68,1094 80,1090 112,1172 110,1181 95,1172Z" fill="#2b3a6b"/>
<path d="M100,1100 385,1098 410,1150 120,1152Z" fill="#ffffff"/>
<path d="M455,945 545,950 610,960 640,1100 695,1300 690,1500 680,1700 675,1760 510,1760 520,1740 600,1700 610,1640 560,1400 500,1200 465,1020Z" fill="#b08362"/>
<path d="M610,960 720,930 885,935 860,1150 880,1350 910,1500 925,1610 960,1670 940,1720 910,1762 825,1760 870,1720 865,1650 800,1480 700,1320 640,1100Z" fill="#b08362"/>
<path d="M545,950 612,958 645,1100 702,1322 690,1310 600,1060Z" fill="#946b4f"/>
<path d="M600,280 C580,330 500,340 480,400 C450,470 460,560 440,660 C425,760 400,830 420,880 L438,920 L452,880 L470,790 L490,760 L820,740 L830,800 L790,850 L775,905 L830,870 C870,800 930,700 920,610 C900,520 830,420 790,370 C750,330 700,330 680,280Z" fill="#b08362"/>
<path d="M480,760 600,755 750,745 825,735 880,820 885,935 720,930 610,960 455,945 450,850Z" fill="#99d3d5"/>
<path d="M750,745 825,735 880,820 885,935 720,930 735,890 762,850 758,790Z" fill="#45b8be"/>
<path d="M790,850 830,835 855,852 805,905 775,905Z" fill="#b08362"/>
<path d="M410,850 435,920 452,880 462,830 440,800Z" fill="#b08362"/>
<path d="M540,130 600,110 660,150 672,200 660,250 620,285 580,270 550,220Z" fill="#b08362"/>
<path d="M520,150 Q545,100 590,95 Q640,100 670,145 L695,165 Q650,190 600,160 L560,135 L535,195Z" fill="#17376d"/>
</g>
<rect x="1662.8" y="855.6" width="657.3" height="276.1" fill="#fff" stroke="#007b8b" stroke-width="3.6"/>
<text x="1736.5" y="1051.5" font-family="Liberation Sans, sans-serif" font-weight="bold" font-size="191" fill="#00788a" stroke="#00788a" stroke-width="6" textLength="511" lengthAdjust="spacingAndGlyphs">EU 53%</text>
<text x="1671" y="1198.7" font-family="Liberation Sans, sans-serif" font-weight="bold" font-size="41" fill="#1d1d1b" stroke="#1d1d1b" stroke-width="0.9" textLength="653" lengthAdjust="spacingAndGlyphs">BODY MASS INDEX (BMI) IS CALCULATED AS</text>
<text x="1671" y="1253.8" font-family="Liberation Sans, sans-serif" font-weight="bold" font-size="41" fill="#1d1d1b" stroke="#1d1d1b" stroke-width="0.9" textLength="603" lengthAdjust="spacingAndGlyphs">PERSON’S WEIGHT (KG) DIVIDED BY THE</text>
<text x="1671" y="1308.1" font-family="Liberation Sans, sans-serif" font-weight="bold" font-size="41" fill="#1d1d1b" stroke="#1d1d1b" stroke-width="0.9" textLength="377" lengthAdjust="spacingAndGlyphs">SQUARE OF HEIGHT (M²).</text>
<text x="1294.8" y="789.3" font-family="Liberation Sans, sans-serif" font-weight="bold" font-size="43" fill="#1d1d1b" stroke="#1d1d1b" stroke-width="0.9" textLength="37.9" lengthAdjust="spacingAndGlyphs">59</text>
<text x="836.2" y="949.7" font-family="Liberation Sans, sans-serif" font-weight="bold" font-size="43" fill="#1d1d1b" stroke="#1d1d1b" stroke-width="0.9" textLength="36.1" lengthAdjust="spacingAndGlyphs">51</text>
<text x="1012.2" y="1005.9" font-family="Liberation Sans, sans-serif" font-weight="bold" font-size="43" fill="#1d1d1b" stroke="#1d1d1b" stroke-width="0.9" textLength="36.1" lengthAdjust="spacingAndGlyphs">51</text>
<text x="862.4" y="1226.8" font-family="Liberation Sans, sans-serif" font-weight="bold" font-size="43" fill="#1d1d1b" stroke="#1d1d1b" stroke-width="0.9" textLength="36.9" lengthAdjust="spacingAndGlyphs">50</text>
<text x="1357.4" y="1029.1" font-family="Liberation Sans, sans-serif" font-weight="bold" font-size="43" fill="#1d1d1b" stroke="#1d1d1b" stroke-width="0.9" textLength="37.2" lengthAdjust="spacingAndGlyphs">57</text>
<text x="1368.5" y="1129.5" font-family="Liberation Sans, sans-serif" font-weight="bold" font-size="43" fill="#1d1d1b" stroke="#1d1d1b" stroke-width="0.9" textLength="39.5" lengthAdjust="spacingAndGlyphs">58</text>
<text x="1345.2" y="1225.3" font-family="Liberation Sans, sans-serif" font-weight="bold" font-size="43" fill="#1d1d1b" stroke="#1d1d1b" stroke-width="0.9" textLength="39.0" lengthAdjust="spacingAndGlyphs">57</text>
<text x="1199.6" y="1460.9" font-family="Liberation Sans, sans-serif" font-weight="bold" font-size="43" fill="#1d1d1b" stroke="#1d1d1b" stroke-width="0.9" textLength="38.2" lengthAdjust="spacingAndGlyphs">58</text>
<text x="1073.5" y="1593.4" font-family="Liberation Sans, sans-serif" font-weight="bold" font-size="43" fill="#1d1d1b" stroke="#1d1d1b" stroke-width="0.9" textLength="38.8" lengthAdjust="spacingAndGlyphs">60</text>
<text x="1235.8" y="1638.7" font-family="Liberation Sans, sans-serif" font-weight="bold" font-size="43" fill="#1d1d1b" stroke="#1d1d1b" stroke-width="0.9" textLength="38.2" lengthAdjust="spacingAndGlyphs">59</text>
<text x="1238.3" y="1740.2" font-family="Liberation Sans, sans-serif" font-weight="bold" font-size="43" fill="#1d1d1b" stroke="#1d1d1b" stroke-width="0.9" textLength="38.8" lengthAdjust="spacingAndGlyphs">60</text>
<text x="1060.3" y="1716.9" font-family="Liberation Sans, sans-serif" font-weight="bold" font-size="43" fill="#1d1d1b" stroke="#1d1d1b" stroke-width="0.9" textLength="36.9" lengthAdjust="spacingAndGlyphs">52</text>
<text x="1059.8" y="1806.2" font-family="Liberation Sans, sans-serif" font-weight="bold" font-size="43" fill="#1d1d1b" stroke="#1d1d1b" stroke-width="0.9" textLength="38.7" lengthAdjust="spacingAndGlyphs">58</text>
<text x="1157.3" y="1817.9" font-family="Liberation Sans, sans-serif" font-weight="bold" font-size="43" fill="#1d1d1b" stroke="#1d1d1b" stroke-width="0.9" textLength="38.3" lengthAdjust="spacingAndGlyphs">65</text>
<text x="1338.5" y="1878.7" font-family="Liberation Sans, sans-serif" font-weight="bold" font-size="43" fill="#1d1d1b" stroke="#1d1d1b" stroke-width="0.9" textLength="39.5" lengthAdjust="spacingAndGlyphs">54</text>
<text x="986.5" y="1996.4" font-family="Liberation Sans, sans-serif" font-weight="bold" font-size="43" fill="#1d1d1b" stroke="#1d1d1b" stroke-width="0.9" textLength="39.5" lengthAdjust="spacingAndGlyphs">46</text>
<text x="892.7" y="1525.6" font-family="Liberation Sans, sans-serif" font-weight="bold" font-size="43" fill="#1d1d1b" stroke="#1d1d1b" stroke-width="0.9" textLength="39.6" lengthAdjust="spacingAndGlyphs">54</text>
<text x="727.1" y="1445.4" font-family="Liberation Sans, sans-serif" font-weight="bold" font-size="43" fill="#1d1d1b" stroke="#1d1d1b" stroke-width="0.9" textLength="37.5" lengthAdjust="spacingAndGlyphs">50</text>
<text x="679.2" y="1531.6" font-family="Liberation Sans, sans-serif" font-weight="bold" font-size="43" fill="#1d1d1b" stroke="#1d1d1b" stroke-width="0.9" textLength="37.5" lengthAdjust="spacingAndGlyphs">50</text>
<text x="818.5" y="1594.2" font-family="Liberation Sans, sans-serif" font-weight="bold" font-size="43" fill="#1d1d1b" stroke="#1d1d1b" stroke-width="0.9" textLength="38.7" lengthAdjust="spacingAndGlyphs">48</text>
<text x="592.5" y="1768.8" font-family="Liberation Sans, sans-serif" font-weight="bold" font-size="43" fill="#1d1d1b" stroke="#1d1d1b" stroke-width="0.9" textLength="39.3" lengthAdjust="spacingAndGlyphs">47</text>
<text x="289.9" y="2105.8" font-family="Liberation Sans, sans-serif" font-weight="bold" font-size="43" fill="#1d1d1b" stroke="#1d1d1b" stroke-width="0.9" textLength="39.7" lengthAdjust="spacingAndGlyphs">54</text>
<text x="90.3" y="2059.0" font-family="Liberation Sans, sans-serif" font-weight="bold" font-size="43" fill="#1d1d1b" stroke="#1d1d1b" stroke-width="0.9" textLength="40.4" lengthAdjust="spacingAndGlyphs">56</text>
<text x="260.6" y="1335.5" font-family="Liberation Sans, sans-serif" font-weight="bold" font-size="43" fill="#1d1d1b" stroke="#1d1d1b" stroke-width="0.9" textLength="39.7" lengthAdjust="spacingAndGlyphs">54</text>
<text x="1472.9" y="1771.0" font-family="Liberation Sans, sans-serif" font-weight="bold" font-size="43" fill="#1d1d1b" stroke="#1d1d1b" stroke-width="0.9" textLength="39.0" lengthAdjust="spacingAndGlyphs">59</text>
<text x="1522.9" y="1940.2" font-family="Liberation Sans, sans-serif" font-weight="bold" font-size="43" fill="#1d1d1b" stroke="#1d1d1b" stroke-width="0.9" textLength="38.2" lengthAdjust="spacingAndGlyphs">55</text>
<text x="1402.3" y="2155.0" font-family="Liberation Sans, sans-serif" font-weight="bold" font-size="43" fill="#1d1d1b" stroke="#1d1d1b" stroke-width="0.9" textLength="39.3" lengthAdjust="spacingAndGlyphs">58</text>
<text x="1965.7" y="2045.6" font-family="Liberation Sans, sans-serif" font-weight="bold" font-size="43" fill="#1d1d1b" stroke="#1d1d1b" stroke-width="0.9" textLength="38.9" lengthAdjust="spacingAndGlyphs">59</text>
<text x="2024.4" y="2310.9" font-family="Liberation Sans, sans-serif" font-weight="bold" font-size="43" fill="#1d1d1b" stroke="#1d1d1b" stroke-width="0.9" textLength="39.3" lengthAdjust="spacingAndGlyphs">50</text>
<text x="1193.9" y="2370.3" font-family="Liberation Sans, sans-serif" font-weight="bold" font-size="43" fill="#1d1d1b" stroke="#1d1d1b" stroke-width="0.9" textLength="38.3" lengthAdjust="spacingAndGlyphs">65</text>
<path d="M762.5,1583.1 L816.9,1583.1" stroke="#1d1d1b" stroke-width="1.6"/>
<path d="M1128.6,2374.6 L1184.8,2363.8" stroke="#1d1d1b" stroke-width="1.6"/>
<text x="85" y="2429.5" font-family="Liberation Sans, sans-serif" font-size="36.5" fill="#2e2e2e" textLength="1026" lengthAdjust="spacingAndGlyphs">Administrative boundaries: © EuroGeographics © UN–FAO © Turkstat</text>
<text x="85" y="2471" font-family="Liberation Sans, sans-serif" font-size="36.5" fill="#2e2e2e" textLength="576" lengthAdjust="spacingAndGlyphs">Cartography: Eurostat – IMAGE, 7/2021</text>
<text x="1523" y="2452.5" font-family="Liberation Sans, sans-serif" font-size="69" fill="#77787b" textLength="494" lengthAdjust="spacingAndGlyphs">ec.europa.eu/</text>
<text x="2018" y="2452.5" font-family="Liberation Sans, sans-serif" font-weight="bold" font-size="69" fill="#77787b" textLength="317" lengthAdjust="spacingAndGlyphs">eurostat</text>
<rect x="2345.3" y="2399.7" width="82.3" height="54.3" fill="#2b4c9b"/>
<polygon points="2386.50,2405.70 2387.23,2407.79 2389.45,2407.84 2387.69,2409.19 2388.32,2411.31 2386.50,2410.05 2384.68,2411.31 2385.31,2409.19 2383.55,2407.84 2385.77,2407.79" fill="#ffdd00"/>
<polygon points="2395.50,2408.11 2396.23,2410.20 2398.45,2410.25 2396.69,2411.60 2397.32,2413.72 2395.50,2412.46 2393.68,2413.72 2394.31,2411.60 2392.55,2410.25 2394.77,2410.20" fill="#ffdd00"/>
<polygon points="2402.09,2414.70 2402.82,2416.79 2405.04,2416.84 2403.28,2418.19 2403.91,2420.31 2402.09,2419.05 2400.27,2420.31 2400.90,2418.19 2399.14,2416.84 2401.35,2416.79" fill="#ffdd00"/>
<polygon points="2404.50,2423.70 2405.23,2425.79 2407.45,2425.84 2405.69,2427.19 2406.32,2429.31 2404.50,2428.05 2402.68,2429.31 2403.31,2427.19 2401.55,2425.84 2403.77,2425.79" fill="#ffdd00"/>
<polygon points="2402.09,2432.70 2402.82,2434.79 2405.04,2434.84 2403.28,2436.19 2403.91,2438.31 2402.09,2437.05 2400.27,2438.31 2400.90,2436.19 2399.14,2434.84 2401.35,2434.79" fill="#ffdd00"/>
<polygon points="2395.50,2439.29 2396.23,2441.38 2398.45,2441.43 2396.69,2442.77 2397.32,2444.90 2395.50,2443.64 2393.68,2444.90 2394.31,2442.77 2392.55,2441.43 2394.77,2441.38" fill="#ffdd00"/>
<polygon points="2386.50,2441.70 2387.23,2443.79 2389.45,2443.84 2387.69,2445.19 2388.32,2447.31 2386.50,2446.05 2384.68,2447.31 2385.31,2445.19 2383.55,2443.84 2385.77,2443.79" fill="#ffdd00"/>
<polygon points="2377.50,2439.29 2378.23,2441.38 2380.45,2441.43 2378.69,2442.77 2379.32,2444.90 2377.50,2443.64 2375.68,2444.90 2376.31,2442.77 2374.55,2441.43 2376.77,2441.38" fill="#ffdd00"/>
<polygon points="2370.91,2432.70 2371.65,2434.79 2373.86,2434.84 2372.10,2436.19 2372.73,2438.31 2370.91,2437.05 2369.09,2438.31 2369.72,2436.19 2367.96,2434.84 2370.18,2434.79" fill="#ffdd00"/>
<polygon points="2368.50,2423.70 2369.23,2425.79 2371.45,2425.84 2369.69,2427.19 2370.32,2429.31 2368.50,2428.05 2366.68,2429.31 2367.31,2427.19 2365.55,2425.84 2367.77,2425.79" fill="#ffdd00"/>
<polygon points="2370.91,2414.70 2371.65,2416.79 2373.86,2416.84 2372.10,2418.19 2372.73,2420.31 2370.91,2419.05 2369.09,2420.31 2369.72,2418.19 2367.96,2416.84 2370.18,2416.79" fill="#ffdd00"/>
<polygon points="2377.50,2408.11 2378.23,2410.20 2380.45,2410.25 2378.69,2411.60 2379.32,2413.72 2377.50,2412.46 2375.68,2413.72 2376.31,2411.60 2374.55,2410.25 2376.77,2410.20" fill="#ffdd00"/>
</svg>
</body></html>
